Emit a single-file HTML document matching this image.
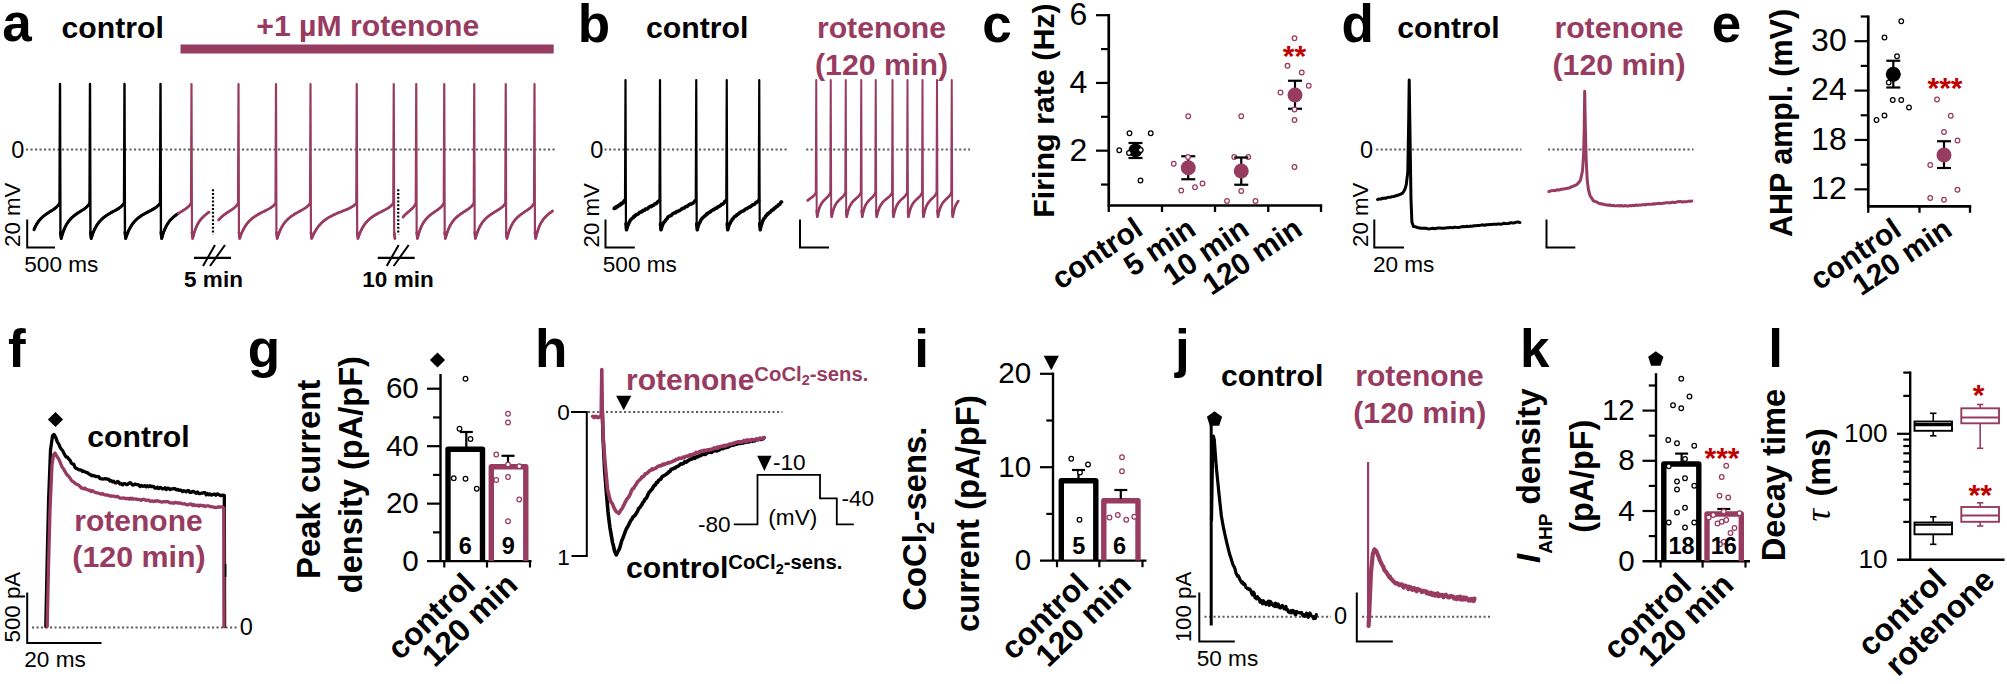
<!DOCTYPE html>
<html><head><meta charset="utf-8"><title>Figure</title>
<style>
html,body{margin:0;padding:0;background:#fff;}
svg{display:block;font-family:"Liberation Sans",sans-serif;}
</style></head><body>
<svg width="2007" height="684" viewBox="0 0 2007 684">
<rect width="2007" height="684" fill="#fff"/>
<text x="2.20" y="41.30" font-size="53" font-weight="bold" fill="#000" text-anchor="start">a</text>
<text x="61.50" y="38.00" font-size="30.2" font-weight="bold" fill="#000" text-anchor="start">control</text>
<text x="256.30" y="36.00" font-size="30.2" font-weight="bold" fill="#983b61" text-anchor="start">+1 µM rotenone</text>
<rect x="180.5" y="44.5" width="373.2" height="9" fill="#983b61"/>
<text x="11.20" y="158.00" font-size="23.5" fill="#000" text-anchor="start">0</text>
<line x1="26.00" y1="149.50" x2="557.00" y2="149.50" stroke="#5e5e5e" stroke-width="2.1" stroke-dasharray="2.1 2.4"/>
<polyline points="34.03,229.63 34.67,228.12 35.30,226.75 35.94,225.50 36.58,224.36 37.21,223.31 37.85,222.35 38.49,221.46 39.12,220.64 39.76,219.87 40.40,219.15 41.03,218.48 41.67,217.85 42.31,217.25 42.94,216.68 43.58,216.15 44.22,215.63 44.85,215.14 45.49,214.66 46.13,214.20 46.77,213.76 47.40,213.32 48.04,212.90 48.68,212.49 49.31,212.08 49.95,211.67 50.59,211.27 51.22,210.87 51.86,210.46 52.50,210.05 53.13,209.64 53.77,209.20 54.41,208.75 55.04,208.28 55.68,207.78 56.32,207.24 56.95,206.65 57.59,206.00 58.23,205.29 58.86,204.48 59.50,203.57 60.00,84.00 60.45,232.50 61.20,238.50 61.91,235.88 62.62,233.56 63.32,231.48 64.03,229.63 64.74,227.96 65.45,226.46 66.15,225.11 66.86,223.89 67.57,222.77 68.28,221.75 68.98,220.81 69.69,219.95 70.40,219.15 71.11,218.41 71.81,217.71 72.52,217.06 73.23,216.44 73.94,215.86 74.64,215.30 75.35,214.77 76.06,214.25 76.77,213.76 77.47,213.28 78.18,212.81 78.89,212.35 79.59,211.90 80.30,211.45 81.01,211.00 81.72,210.55 82.42,210.10 83.13,209.64 83.84,209.15 84.55,208.65 85.25,208.12 85.96,207.54 86.67,206.92 87.38,206.23 88.08,205.45 88.79,204.58 89.50,203.57 90.00,84.00 90.45,232.50 91.20,238.50 92.02,235.88 92.84,233.56 93.66,231.48 94.48,229.63 95.30,227.96 96.12,226.46 96.94,225.11 97.76,223.89 98.58,222.77 99.40,221.75 100.22,220.81 101.04,219.95 101.86,219.15 102.68,218.41 103.50,217.71 104.32,217.06 105.14,216.44 105.96,215.86 106.78,215.30 107.60,214.77 108.42,214.25 109.24,213.76 110.06,213.28 110.88,212.81 111.70,212.35 112.52,211.90 113.34,211.45 114.16,211.00 114.98,210.55 115.80,210.10 116.62,209.64 117.44,209.15 118.26,208.65 119.08,208.12 119.90,207.54 120.72,206.92 121.54,206.23 122.36,205.45 123.18,204.58 124.00,203.57 124.50,84.00 124.95,232.50 125.70,238.50 126.56,235.88 127.42,233.56 128.27,231.48 129.13,229.63 129.99,227.96 130.84,226.46 131.70,225.11 132.56,223.89 133.42,222.77 134.28,221.75 135.13,220.81 135.99,219.95 136.85,219.15 137.71,218.41 138.56,217.71 139.42,217.06 140.28,216.44 141.13,215.86 141.99,215.30 142.85,214.77 143.71,214.25 144.56,213.76 145.42,213.28 146.28,212.81 147.14,212.35 148.00,211.90 148.85,211.45 149.71,211.00 150.57,210.55 151.43,210.10 152.28,209.64 153.14,209.15 154.00,208.65 154.85,208.12 155.71,207.54 156.57,206.92 157.43,206.23 158.28,205.45 159.14,204.58 160.00,203.57 160.50,84.00 160.95,232.50 161.70,238.50 162.11,236.99 162.53,235.57 162.94,234.24 163.35,233.00 163.77,231.83 164.18,230.74 164.59,229.71 165.01,228.75 165.42,227.84 165.84,226.98 166.25,226.17 166.66,225.41 167.08,224.68 167.49,224.00 167.90,223.35 168.32,222.74 168.73,222.15 169.14,221.59 169.56,221.06 169.97,220.56 170.38,220.07 170.80,219.61 171.21,219.16 171.62,218.74 172.04,218.33 172.45,217.93 172.86,217.55 173.28,217.18 173.69,216.83 174.11,216.48 174.52,216.15 174.93,215.82 175.35,215.50 175.76,215.19 176.17,214.89 176.59,214.60 177.00,214.31 177.41,214.03 177.83,213.75 178.24,213.48" fill="none" stroke="#000" stroke-width="2.4" stroke-linejoin="round" stroke-linecap="round"/>
<polyline points="34.03,229.63 34.67,228.12 35.30,226.75 35.94,225.50 36.58,224.36 37.21,223.31 37.85,222.35 38.49,221.46 39.12,220.64 39.76,219.87 40.40,219.15 41.03,218.48 41.67,217.85 42.31,217.25 42.94,216.68 43.58,216.15 44.22,215.63 44.85,215.14 45.49,214.66 46.13,214.20 46.77,213.76 47.40,213.32 48.04,212.90 48.68,212.49 49.31,212.08 49.95,211.67 50.59,211.27 51.22,210.87 51.86,210.46 52.50,210.05 53.13,209.64 53.77,209.20 54.41,208.75 55.04,208.28 55.68,207.78 56.32,207.24 56.95,206.65 57.59,206.00 58.23,205.29 58.86,204.48 59.50,203.57" fill="none" stroke="#000" stroke-width="3.0" stroke-linejoin="round" stroke-linecap="round"/>
<polyline points="60.45,232.50 61.20,238.50 61.91,235.88 62.62,233.56 63.32,231.48 64.03,229.63 64.74,227.96 65.45,226.46 66.15,225.11 66.86,223.89 67.57,222.77 68.28,221.75 68.98,220.81 69.69,219.95 70.40,219.15 71.11,218.41 71.81,217.71 72.52,217.06 73.23,216.44 73.94,215.86 74.64,215.30 75.35,214.77 76.06,214.25 76.77,213.76 77.47,213.28 78.18,212.81 78.89,212.35 79.59,211.90 80.30,211.45 81.01,211.00 81.72,210.55 82.42,210.10 83.13,209.64 83.84,209.15 84.55,208.65 85.25,208.12 85.96,207.54 86.67,206.92 87.38,206.23 88.08,205.45 88.79,204.58 89.50,203.57" fill="none" stroke="#000" stroke-width="3.0" stroke-linejoin="round" stroke-linecap="round"/>
<polyline points="90.45,232.50 91.20,238.50 92.02,235.88 92.84,233.56 93.66,231.48 94.48,229.63 95.30,227.96 96.12,226.46 96.94,225.11 97.76,223.89 98.58,222.77 99.40,221.75 100.22,220.81 101.04,219.95 101.86,219.15 102.68,218.41 103.50,217.71 104.32,217.06 105.14,216.44 105.96,215.86 106.78,215.30 107.60,214.77 108.42,214.25 109.24,213.76 110.06,213.28 110.88,212.81 111.70,212.35 112.52,211.90 113.34,211.45 114.16,211.00 114.98,210.55 115.80,210.10 116.62,209.64 117.44,209.15 118.26,208.65 119.08,208.12 119.90,207.54 120.72,206.92 121.54,206.23 122.36,205.45 123.18,204.58 124.00,203.57" fill="none" stroke="#000" stroke-width="3.0" stroke-linejoin="round" stroke-linecap="round"/>
<polyline points="124.95,232.50 125.70,238.50 126.56,235.88 127.42,233.56 128.27,231.48 129.13,229.63 129.99,227.96 130.84,226.46 131.70,225.11 132.56,223.89 133.42,222.77 134.28,221.75 135.13,220.81 135.99,219.95 136.85,219.15 137.71,218.41 138.56,217.71 139.42,217.06 140.28,216.44 141.13,215.86 141.99,215.30 142.85,214.77 143.71,214.25 144.56,213.76 145.42,213.28 146.28,212.81 147.14,212.35 148.00,211.90 148.85,211.45 149.71,211.00 150.57,210.55 151.43,210.10 152.28,209.64 153.14,209.15 154.00,208.65 154.85,208.12 155.71,207.54 156.57,206.92 157.43,206.23 158.28,205.45 159.14,204.58 160.00,203.57" fill="none" stroke="#000" stroke-width="3.0" stroke-linejoin="round" stroke-linecap="round"/>
<polyline points="160.95,232.50 161.70,238.50 162.11,236.99 162.53,235.57 162.94,234.24 163.35,233.00 163.77,231.83 164.18,230.74 164.59,229.71 165.01,228.75 165.42,227.84 165.84,226.98 166.25,226.17 166.66,225.41 167.08,224.68 167.49,224.00 167.90,223.35 168.32,222.74 168.73,222.15 169.14,221.59 169.56,221.06 169.97,220.56 170.38,220.07 170.80,219.61 171.21,219.16 171.62,218.74 172.04,218.33 172.45,217.93 172.86,217.55 173.28,217.18 173.69,216.83 174.11,216.48 174.52,216.15 174.93,215.82 175.35,215.50 175.76,215.19 176.17,214.89 176.59,214.60 177.00,214.31 177.41,214.03 177.83,213.75 178.24,213.48" fill="none" stroke="#000" stroke-width="3.0" stroke-linejoin="round" stroke-linecap="round"/>
<polyline points="178.24,213.48 178.56,213.27 178.88,213.06 179.20,212.86 179.52,212.66 179.84,212.46 180.15,212.26 180.47,212.06 180.79,211.87 181.11,211.67 181.43,211.48 181.75,211.28 182.07,211.09 182.39,210.90 182.71,210.70 183.03,210.50 183.34,210.31 183.66,210.11 183.98,209.91 184.30,209.70 184.62,209.50 184.94,209.29 185.26,209.07 185.58,208.86 185.90,208.63 186.22,208.41 186.53,208.17 186.85,207.93 187.17,207.68 187.49,207.42 187.81,207.15 188.13,206.86 188.45,206.57 188.77,206.26 189.09,205.94 189.41,205.60 189.72,205.24 190.04,204.86 190.36,204.45 190.68,204.03 191.00,203.57 191.50,84.00 191.95,232.50 192.70,238.50 193.11,236.79 193.52,235.20 193.93,233.73 194.34,232.36 194.75,231.08 195.16,229.90 195.57,228.79 195.98,227.76 196.39,226.80 196.80,225.89 197.21,225.05 197.62,224.25 198.03,223.50 198.44,222.80 198.85,222.13 199.26,221.50 199.67,220.91 200.08,220.34 200.49,219.80 200.91,219.29 201.32,218.80 201.73,218.33 202.14,217.89 202.55,217.46 202.96,217.04 203.37,216.64 203.78,216.26 204.19,215.89 204.60,215.53 205.01,215.17 205.42,214.83 205.83,214.50 206.24,214.18 206.65,213.86 207.06,213.55 207.47,213.24 207.88,212.94 208.29,212.64 208.70,212.35 209.11,212.06" fill="none" stroke="#983b61" stroke-width="2.2" stroke-linejoin="round" stroke-linecap="round"/>
<polyline points="178.24,213.48 178.56,213.27 178.88,213.06 179.20,212.86 179.52,212.66 179.84,212.46 180.15,212.26 180.47,212.06 180.79,211.87 181.11,211.67 181.43,211.48 181.75,211.28 182.07,211.09 182.39,210.90 182.71,210.70 183.03,210.50 183.34,210.31 183.66,210.11 183.98,209.91 184.30,209.70 184.62,209.50 184.94,209.29 185.26,209.07 185.58,208.86 185.90,208.63 186.22,208.41 186.53,208.17 186.85,207.93 187.17,207.68 187.49,207.42 187.81,207.15 188.13,206.86 188.45,206.57 188.77,206.26 189.09,205.94 189.41,205.60 189.72,205.24 190.04,204.86 190.36,204.45 190.68,204.03 191.00,203.57" fill="none" stroke="#983b61" stroke-width="2.7" stroke-linejoin="round" stroke-linecap="round"/>
<polyline points="191.95,232.50 192.70,238.50 193.11,236.79 193.52,235.20 193.93,233.73 194.34,232.36 194.75,231.08 195.16,229.90 195.57,228.79 195.98,227.76 196.39,226.80 196.80,225.89 197.21,225.05 197.62,224.25 198.03,223.50 198.44,222.80 198.85,222.13 199.26,221.50 199.67,220.91 200.08,220.34 200.49,219.80 200.91,219.29 201.32,218.80 201.73,218.33 202.14,217.89 202.55,217.46 202.96,217.04 203.37,216.64 203.78,216.26 204.19,215.89 204.60,215.53 205.01,215.17 205.42,214.83 205.83,214.50 206.24,214.18 206.65,213.86 207.06,213.55 207.47,213.24 207.88,212.94 208.29,212.64 208.70,212.35 209.11,212.06" fill="none" stroke="#983b61" stroke-width="2.7" stroke-linejoin="round" stroke-linecap="round"/>
<polyline points="218.69,219.94 219.17,219.37 219.65,218.84 220.14,218.33 220.62,217.84 221.10,217.37 221.59,216.93 222.07,216.50 222.55,216.08 223.03,215.68 223.52,215.29 224.00,214.92 224.48,214.55 224.97,214.20 225.45,213.85 225.93,213.51 226.41,213.18 226.90,212.85 227.38,212.53 227.86,212.21 228.34,211.89 228.83,211.58 229.31,211.27 229.79,210.96 230.28,210.64 230.76,210.33 231.24,210.01 231.72,209.68 232.21,209.35 232.69,209.00 233.17,208.65 233.66,208.28 234.14,207.89 234.62,207.48 235.10,207.05 235.59,206.58 236.07,206.08 236.55,205.53 237.03,204.94 237.52,204.29 238.00,203.57 238.50,84.00 238.95,232.50 239.70,238.50 240.59,235.88 241.49,233.56 242.38,231.48 243.28,229.63 244.17,227.96 245.07,226.46 245.97,225.11 246.86,223.89 247.75,222.77 248.65,221.75 249.54,220.81 250.44,219.95 251.33,219.15 252.23,218.41 253.12,217.71 254.02,217.06 254.91,216.44 255.81,215.86 256.70,215.30 257.60,214.77 258.50,214.25 259.39,213.76 260.28,213.28 261.18,212.81 262.07,212.35 262.97,211.90 263.87,211.45 264.76,211.00 265.65,210.55 266.55,210.10 267.44,209.64 268.34,209.15 269.24,208.65 270.13,208.12 271.02,207.54 271.92,206.92 272.81,206.23 273.71,205.45 274.61,204.58 275.50,203.57 276.00,84.00 276.45,232.50 277.20,238.50 278.02,235.88 278.84,233.56 279.66,231.48 280.48,229.63 281.30,227.96 282.12,226.46 282.94,225.11 283.76,223.89 284.58,222.77 285.40,221.75 286.22,220.81 287.04,219.95 287.86,219.15 288.68,218.41 289.50,217.71 290.32,217.06 291.14,216.44 291.96,215.86 292.78,215.30 293.60,214.77 294.42,214.25 295.24,213.76 296.06,213.28 296.88,212.81 297.70,212.35 298.52,211.90 299.34,211.45 300.16,211.00 300.98,210.55 301.80,210.10 302.62,209.64 303.44,209.15 304.26,208.65 305.08,208.12 305.90,207.54 306.72,206.92 307.54,206.23 308.36,205.45 309.18,204.58 310.00,203.57 310.50,84.00 310.95,232.50 311.70,238.50 312.81,235.88 313.93,233.56 315.04,231.48 316.15,229.63 317.27,227.96 318.38,226.46 319.50,225.11 320.61,223.89 321.72,222.77 322.84,221.75 323.95,220.81 325.06,219.95 326.18,219.15 327.29,218.41 328.41,217.71 329.52,217.06 330.63,216.44 331.75,215.86 332.86,215.30 333.98,214.77 335.09,214.25 336.20,213.76 337.32,213.28 338.43,212.81 339.54,212.35 340.66,211.90 341.77,211.45 342.88,211.00 344.00,210.55 345.11,210.10 346.23,209.64 347.34,209.15 348.45,208.65 349.57,208.12 350.68,207.54 351.80,206.92 352.91,206.23 354.02,205.45 355.14,204.58 356.25,203.57 356.75,84.00 357.20,232.50 357.95,238.50 358.83,235.88 359.71,233.56 360.60,231.48 361.48,229.63 362.36,227.96 363.25,226.46 364.13,225.11 365.01,223.89 365.89,222.77 366.77,221.75 367.66,220.81 368.54,219.95 369.42,219.15 370.31,218.41 371.19,217.71 372.07,217.06 372.95,216.44 373.83,215.86 374.72,215.30 375.60,214.77 376.48,214.25 377.37,213.76 378.25,213.28 379.13,212.81 380.01,212.35 380.89,211.90 381.78,211.45 382.66,211.00 383.54,210.55 384.43,210.10 385.31,209.64 386.19,209.15 387.07,208.65 387.95,208.12 388.84,207.54 389.72,206.92 390.60,206.23 391.49,205.45 392.37,204.58 393.25,203.57 393.75,84.00 394.20,232.50 394.95,238.50" fill="none" stroke="#983b61" stroke-width="2.2" stroke-linejoin="round" stroke-linecap="round"/>
<polyline points="218.69,219.94 219.17,219.37 219.65,218.84 220.14,218.33 220.62,217.84 221.10,217.37 221.59,216.93 222.07,216.50 222.55,216.08 223.03,215.68 223.52,215.29 224.00,214.92 224.48,214.55 224.97,214.20 225.45,213.85 225.93,213.51 226.41,213.18 226.90,212.85 227.38,212.53 227.86,212.21 228.34,211.89 228.83,211.58 229.31,211.27 229.79,210.96 230.28,210.64 230.76,210.33 231.24,210.01 231.72,209.68 232.21,209.35 232.69,209.00 233.17,208.65 233.66,208.28 234.14,207.89 234.62,207.48 235.10,207.05 235.59,206.58 236.07,206.08 236.55,205.53 237.03,204.94 237.52,204.29 238.00,203.57" fill="none" stroke="#983b61" stroke-width="2.7" stroke-linejoin="round" stroke-linecap="round"/>
<polyline points="238.95,232.50 239.70,238.50 240.59,235.88 241.49,233.56 242.38,231.48 243.28,229.63 244.17,227.96 245.07,226.46 245.97,225.11 246.86,223.89 247.75,222.77 248.65,221.75 249.54,220.81 250.44,219.95 251.33,219.15 252.23,218.41 253.12,217.71 254.02,217.06 254.91,216.44 255.81,215.86 256.70,215.30 257.60,214.77 258.50,214.25 259.39,213.76 260.28,213.28 261.18,212.81 262.07,212.35 262.97,211.90 263.87,211.45 264.76,211.00 265.65,210.55 266.55,210.10 267.44,209.64 268.34,209.15 269.24,208.65 270.13,208.12 271.02,207.54 271.92,206.92 272.81,206.23 273.71,205.45 274.61,204.58 275.50,203.57" fill="none" stroke="#983b61" stroke-width="2.7" stroke-linejoin="round" stroke-linecap="round"/>
<polyline points="276.45,232.50 277.20,238.50 278.02,235.88 278.84,233.56 279.66,231.48 280.48,229.63 281.30,227.96 282.12,226.46 282.94,225.11 283.76,223.89 284.58,222.77 285.40,221.75 286.22,220.81 287.04,219.95 287.86,219.15 288.68,218.41 289.50,217.71 290.32,217.06 291.14,216.44 291.96,215.86 292.78,215.30 293.60,214.77 294.42,214.25 295.24,213.76 296.06,213.28 296.88,212.81 297.70,212.35 298.52,211.90 299.34,211.45 300.16,211.00 300.98,210.55 301.80,210.10 302.62,209.64 303.44,209.15 304.26,208.65 305.08,208.12 305.90,207.54 306.72,206.92 307.54,206.23 308.36,205.45 309.18,204.58 310.00,203.57" fill="none" stroke="#983b61" stroke-width="2.7" stroke-linejoin="round" stroke-linecap="round"/>
<polyline points="310.95,232.50 311.70,238.50 312.81,235.88 313.93,233.56 315.04,231.48 316.15,229.63 317.27,227.96 318.38,226.46 319.50,225.11 320.61,223.89 321.72,222.77 322.84,221.75 323.95,220.81 325.06,219.95 326.18,219.15 327.29,218.41 328.41,217.71 329.52,217.06 330.63,216.44 331.75,215.86 332.86,215.30 333.98,214.77 335.09,214.25 336.20,213.76 337.32,213.28 338.43,212.81 339.54,212.35 340.66,211.90 341.77,211.45 342.88,211.00 344.00,210.55 345.11,210.10 346.23,209.64 347.34,209.15 348.45,208.65 349.57,208.12 350.68,207.54 351.80,206.92 352.91,206.23 354.02,205.45 355.14,204.58 356.25,203.57" fill="none" stroke="#983b61" stroke-width="2.7" stroke-linejoin="round" stroke-linecap="round"/>
<polyline points="357.20,232.50 357.95,238.50 358.83,235.88 359.71,233.56 360.60,231.48 361.48,229.63 362.36,227.96 363.25,226.46 364.13,225.11 365.01,223.89 365.89,222.77 366.77,221.75 367.66,220.81 368.54,219.95 369.42,219.15 370.31,218.41 371.19,217.71 372.07,217.06 372.95,216.44 373.83,215.86 374.72,215.30 375.60,214.77 376.48,214.25 377.37,213.76 378.25,213.28 379.13,212.81 380.01,212.35 380.89,211.90 381.78,211.45 382.66,211.00 383.54,210.55 384.43,210.10 385.31,209.64 386.19,209.15 387.07,208.65 387.95,208.12 388.84,207.54 389.72,206.92 390.60,206.23 391.49,205.45 392.37,204.58 393.25,203.57" fill="none" stroke="#983b61" stroke-width="2.7" stroke-linejoin="round" stroke-linecap="round"/>
<polyline points="394.20,232.50 394.95,238.50" fill="none" stroke="#983b61" stroke-width="2.7" stroke-linejoin="round" stroke-linecap="round"/>
<polyline points="403.02,217.04 403.34,216.66 403.66,216.30 403.97,215.95 404.29,215.61 404.61,215.28 404.93,214.96 405.25,214.65 405.56,214.34 405.88,214.04 406.20,213.74 406.52,213.46 406.84,213.17 407.16,212.89 407.47,212.61 407.79,212.34 408.11,212.07 408.43,211.80 408.75,211.53 409.07,211.26 409.38,211.00 409.70,210.73 410.02,210.46 410.34,210.19 410.66,209.91 410.98,209.63 411.29,209.34 411.61,209.05 411.93,208.75 412.25,208.44 412.57,208.11 412.89,207.77 413.20,207.42 413.52,207.04 413.84,206.65 414.16,206.22 414.48,205.77 414.80,205.28 415.11,204.76 415.43,204.19 415.75,203.57 416.25,84.00 416.70,232.50 417.45,238.50 418.11,235.88 418.76,233.56 419.42,231.48 420.08,229.63 420.74,227.96 421.39,226.46 422.05,225.11 422.71,223.89 423.37,222.77 424.02,221.75 424.68,220.81 425.34,219.95 426.00,219.15 426.65,218.41 427.31,217.71 427.97,217.06 428.63,216.44 429.28,215.86 429.94,215.30 430.60,214.77 431.26,214.25 431.92,213.76 432.57,213.28 433.23,212.81 433.89,212.35 434.55,211.90 435.20,211.45 435.86,211.00 436.52,210.55 437.18,210.10 437.83,209.64 438.49,209.15 439.15,208.65 439.81,208.12 440.46,207.54 441.12,206.92 441.78,206.23 442.44,205.45 443.09,204.58 443.75,203.57 444.25,84.00 444.70,232.50 445.45,238.50 446.16,235.88 446.87,233.56 447.57,231.48 448.28,229.63 448.99,227.96 449.69,226.46 450.40,225.11 451.11,223.89 451.82,222.77 452.52,221.75 453.23,220.81 453.94,219.95 454.65,219.15 455.36,218.41 456.06,217.71 456.77,217.06 457.48,216.44 458.19,215.86 458.89,215.30 459.60,214.77 460.31,214.25 461.01,213.76 461.72,213.28 462.43,212.81 463.14,212.35 463.84,211.90 464.55,211.45 465.26,211.00 465.97,210.55 466.68,210.10 467.38,209.64 468.09,209.15 468.80,208.65 469.50,208.12 470.21,207.54 470.92,206.92 471.63,206.23 472.33,205.45 473.04,204.58 473.75,203.57 474.25,84.00 474.70,232.50 475.45,238.50 476.19,235.88 476.94,233.56 477.69,231.48 478.43,229.63 479.18,227.96 479.92,226.46 480.66,225.11 481.41,223.89 482.15,222.77 482.90,221.75 483.64,220.81 484.39,219.95 485.13,219.15 485.88,218.41 486.62,217.71 487.37,217.06 488.12,216.44 488.86,215.86 489.61,215.30 490.35,214.77 491.09,214.25 491.84,213.76 492.58,213.28 493.33,212.81 494.07,212.35 494.82,211.90 495.56,211.45 496.31,211.00 497.06,210.55 497.80,210.10 498.55,209.64 499.29,209.15 500.03,208.65 500.78,208.12 501.52,207.54 502.27,206.92 503.01,206.23 503.76,205.45 504.50,204.58 505.25,203.57 505.75,84.00 506.20,232.50 506.95,238.50 507.63,235.88 508.30,233.56 508.98,231.48 509.65,229.63 510.33,227.96 511.01,226.46 511.68,225.11 512.36,223.89 513.04,222.77 513.71,221.75 514.39,220.81 515.06,219.95 515.74,219.15 516.42,218.41 517.09,217.71 517.77,217.06 518.45,216.44 519.12,215.86 519.80,215.30 520.48,214.77 521.15,214.25 521.83,213.76 522.50,213.28 523.18,212.81 523.86,212.35 524.53,211.90 525.21,211.45 525.88,211.00 526.56,210.55 527.24,210.10 527.91,209.64 528.59,209.15 529.27,208.65 529.94,208.12 530.62,207.54 531.29,206.92 531.97,206.23 532.65,205.45 533.32,204.58 534.00,203.57 534.50,84.00 534.95,232.50 535.70,238.50 536.12,236.64 536.54,234.92 536.96,233.34 537.38,231.88 537.80,230.53 538.22,229.28 538.64,228.12 539.06,227.04 539.48,226.04 539.90,225.11 540.32,224.24 540.74,223.42 541.16,222.66 541.58,221.94 542.00,221.27 542.42,220.63 542.84,220.03 543.26,219.46 543.68,218.92 544.10,218.40 544.52,217.91 544.95,217.44 545.37,216.99 545.79,216.56 546.21,216.14 546.63,215.74 547.05,215.35 547.47,214.97 547.89,214.60 548.31,214.25 548.73,213.90 549.15,213.56 549.57,213.22 549.99,212.90 550.41,212.57 550.83,212.25 551.25,211.94 551.67,211.62 552.09,211.31 552.51,211.00" fill="none" stroke="#983b61" stroke-width="2.2" stroke-linejoin="round" stroke-linecap="round"/>
<polyline points="403.02,217.04 403.34,216.66 403.66,216.30 403.97,215.95 404.29,215.61 404.61,215.28 404.93,214.96 405.25,214.65 405.56,214.34 405.88,214.04 406.20,213.74 406.52,213.46 406.84,213.17 407.16,212.89 407.47,212.61 407.79,212.34 408.11,212.07 408.43,211.80 408.75,211.53 409.07,211.26 409.38,211.00 409.70,210.73 410.02,210.46 410.34,210.19 410.66,209.91 410.98,209.63 411.29,209.34 411.61,209.05 411.93,208.75 412.25,208.44 412.57,208.11 412.89,207.77 413.20,207.42 413.52,207.04 413.84,206.65 414.16,206.22 414.48,205.77 414.80,205.28 415.11,204.76 415.43,204.19 415.75,203.57" fill="none" stroke="#983b61" stroke-width="2.7" stroke-linejoin="round" stroke-linecap="round"/>
<polyline points="416.70,232.50 417.45,238.50 418.11,235.88 418.76,233.56 419.42,231.48 420.08,229.63 420.74,227.96 421.39,226.46 422.05,225.11 422.71,223.89 423.37,222.77 424.02,221.75 424.68,220.81 425.34,219.95 426.00,219.15 426.65,218.41 427.31,217.71 427.97,217.06 428.63,216.44 429.28,215.86 429.94,215.30 430.60,214.77 431.26,214.25 431.92,213.76 432.57,213.28 433.23,212.81 433.89,212.35 434.55,211.90 435.20,211.45 435.86,211.00 436.52,210.55 437.18,210.10 437.83,209.64 438.49,209.15 439.15,208.65 439.81,208.12 440.46,207.54 441.12,206.92 441.78,206.23 442.44,205.45 443.09,204.58 443.75,203.57" fill="none" stroke="#983b61" stroke-width="2.7" stroke-linejoin="round" stroke-linecap="round"/>
<polyline points="444.70,232.50 445.45,238.50 446.16,235.88 446.87,233.56 447.57,231.48 448.28,229.63 448.99,227.96 449.69,226.46 450.40,225.11 451.11,223.89 451.82,222.77 452.52,221.75 453.23,220.81 453.94,219.95 454.65,219.15 455.36,218.41 456.06,217.71 456.77,217.06 457.48,216.44 458.19,215.86 458.89,215.30 459.60,214.77 460.31,214.25 461.01,213.76 461.72,213.28 462.43,212.81 463.14,212.35 463.84,211.90 464.55,211.45 465.26,211.00 465.97,210.55 466.68,210.10 467.38,209.64 468.09,209.15 468.80,208.65 469.50,208.12 470.21,207.54 470.92,206.92 471.63,206.23 472.33,205.45 473.04,204.58 473.75,203.57" fill="none" stroke="#983b61" stroke-width="2.7" stroke-linejoin="round" stroke-linecap="round"/>
<polyline points="474.70,232.50 475.45,238.50 476.19,235.88 476.94,233.56 477.69,231.48 478.43,229.63 479.18,227.96 479.92,226.46 480.66,225.11 481.41,223.89 482.15,222.77 482.90,221.75 483.64,220.81 484.39,219.95 485.13,219.15 485.88,218.41 486.62,217.71 487.37,217.06 488.12,216.44 488.86,215.86 489.61,215.30 490.35,214.77 491.09,214.25 491.84,213.76 492.58,213.28 493.33,212.81 494.07,212.35 494.82,211.90 495.56,211.45 496.31,211.00 497.06,210.55 497.80,210.10 498.55,209.64 499.29,209.15 500.03,208.65 500.78,208.12 501.52,207.54 502.27,206.92 503.01,206.23 503.76,205.45 504.50,204.58 505.25,203.57" fill="none" stroke="#983b61" stroke-width="2.7" stroke-linejoin="round" stroke-linecap="round"/>
<polyline points="506.20,232.50 506.95,238.50 507.63,235.88 508.30,233.56 508.98,231.48 509.65,229.63 510.33,227.96 511.01,226.46 511.68,225.11 512.36,223.89 513.04,222.77 513.71,221.75 514.39,220.81 515.06,219.95 515.74,219.15 516.42,218.41 517.09,217.71 517.77,217.06 518.45,216.44 519.12,215.86 519.80,215.30 520.48,214.77 521.15,214.25 521.83,213.76 522.50,213.28 523.18,212.81 523.86,212.35 524.53,211.90 525.21,211.45 525.88,211.00 526.56,210.55 527.24,210.10 527.91,209.64 528.59,209.15 529.27,208.65 529.94,208.12 530.62,207.54 531.29,206.92 531.97,206.23 532.65,205.45 533.32,204.58 534.00,203.57" fill="none" stroke="#983b61" stroke-width="2.7" stroke-linejoin="round" stroke-linecap="round"/>
<polyline points="534.95,232.50 535.70,238.50 536.12,236.64 536.54,234.92 536.96,233.34 537.38,231.88 537.80,230.53 538.22,229.28 538.64,228.12 539.06,227.04 539.48,226.04 539.90,225.11 540.32,224.24 540.74,223.42 541.16,222.66 541.58,221.94 542.00,221.27 542.42,220.63 542.84,220.03 543.26,219.46 543.68,218.92 544.10,218.40 544.52,217.91 544.95,217.44 545.37,216.99 545.79,216.56 546.21,216.14 546.63,215.74 547.05,215.35 547.47,214.97 547.89,214.60 548.31,214.25 548.73,213.90 549.15,213.56 549.57,213.22 549.99,212.90 550.41,212.57 550.83,212.25 551.25,211.94 551.67,211.62 552.09,211.31 552.51,211.00" fill="none" stroke="#983b61" stroke-width="2.7" stroke-linejoin="round" stroke-linecap="round"/>
<line x1="213.00" y1="189.30" x2="213.00" y2="234.60" stroke="#000" stroke-width="2.2" stroke-dasharray="2 1.75"/>
<line x1="398.25" y1="189.30" x2="398.25" y2="234.60" stroke="#000" stroke-width="2.2" stroke-dasharray="2 1.75"/>
<text x="0" y="0" transform="translate(20.00,247.00) rotate(-90)" font-size="22.3" fill="#000" text-anchor="start">20 mV</text>
<polyline points="27.20,219.40 27.20,247.40 55.00,247.40" fill="none" stroke="#000" stroke-width="2" stroke-linejoin="miter" stroke-linecap="butt"/>
<text x="24.30" y="271.60" font-size="22.6" fill="#000" text-anchor="start">500 ms</text>
<line x1="194.00" y1="257.80" x2="231.00" y2="257.80" stroke="#000" stroke-width="2.2"/>
<line x1="203.00" y1="266.00" x2="215.00" y2="245.00" stroke="#000" stroke-width="2"/>
<line x1="210.00" y1="266.00" x2="225.00" y2="245.00" stroke="#000" stroke-width="2"/>
<text x="213.50" y="286.50" font-size="22.5" font-weight="bold" fill="#000" text-anchor="middle">5 min</text>
<line x1="377.70" y1="257.80" x2="414.70" y2="257.80" stroke="#000" stroke-width="2.2"/>
<line x1="386.70" y1="266.00" x2="398.70" y2="245.00" stroke="#000" stroke-width="2"/>
<line x1="393.70" y1="266.00" x2="408.70" y2="245.00" stroke="#000" stroke-width="2"/>
<text x="398.00" y="286.50" font-size="22.5" font-weight="bold" fill="#000" text-anchor="middle">10 min</text>
<text x="577.70" y="41.50" font-size="53" font-weight="bold" fill="#000" text-anchor="start">b</text>
<text x="646.00" y="38.00" font-size="30.2" font-weight="bold" fill="#000" text-anchor="start">control</text>
<text x="881.50" y="38.00" font-size="30.2" font-weight="bold" fill="#983b61" text-anchor="middle">rotenone</text>
<text x="881.50" y="75.20" font-size="30.3" font-weight="bold" fill="#983b61" text-anchor="middle">(120 min)</text>
<text x="590.20" y="158.00" font-size="23.5" fill="#000" text-anchor="start">0</text>
<line x1="604.50" y1="149.50" x2="788.00" y2="149.50" stroke="#5e5e5e" stroke-width="2.1" stroke-dasharray="2.1 2.4"/>
<line x1="806.20" y1="149.50" x2="970.00" y2="149.50" stroke="#5e5e5e" stroke-width="2.1" stroke-dasharray="2.1 2.4"/>
<polyline points="614.06,208.51 614.33,208.53 614.61,207.88 614.88,208.31 615.15,208.08 615.43,207.68 615.70,207.21 615.97,207.81 616.25,206.98 616.52,207.32 616.79,206.55 617.07,206.37 617.34,206.74 617.61,206.10 617.89,206.58 618.16,205.95 618.43,205.47 618.71,205.32 618.98,205.34 619.26,205.40 619.53,205.50 619.80,204.51 620.08,204.57 620.35,204.20 620.62,204.77 620.90,203.74 621.17,203.45 621.44,203.25 621.72,203.37 621.99,203.67 622.26,203.43 622.54,203.06 622.81,203.10 623.09,202.80 623.36,201.95 623.63,201.56 623.91,202.05 624.18,201.60 624.45,200.61 624.73,200.96 625.00,200.50 625.50,80.00 625.95,223.80 626.50,229.80 627.33,226.97 628.15,224.76 628.98,222.90 629.80,221.23 630.62,219.79 631.45,218.98 632.27,218.10 633.10,217.87 633.92,216.29 634.75,216.46 635.58,215.07 636.40,214.64 637.23,214.55 638.05,214.02 638.88,213.13 639.70,212.25 640.52,212.19 641.35,211.62 642.17,211.70 643.00,210.52 643.83,210.23 644.65,210.31 645.48,208.99 646.30,208.92 647.12,208.88 647.95,208.38 648.77,207.20 649.60,206.74 650.42,206.31 651.25,206.70 652.08,205.57 652.90,205.57 653.73,205.23 654.55,204.15 655.38,203.55 656.20,203.67 657.02,202.73 657.85,201.73 658.67,201.48 659.50,200.50 660.00,80.00 660.45,223.80 661.00,229.80 661.87,226.91 662.74,224.66 663.61,222.57 664.48,221.82 665.34,220.70 666.21,219.33 667.08,218.69 667.95,216.94 668.82,216.40 669.69,215.97 670.56,215.82 671.42,215.24 672.29,214.12 673.16,213.45 674.03,213.12 674.90,212.69 675.77,212.65 676.64,211.43 677.51,211.58 678.38,211.06 679.24,210.69 680.11,210.19 680.98,209.57 681.85,208.84 682.72,208.38 683.59,207.98 684.46,207.94 685.33,206.79 686.19,206.45 687.06,206.54 687.93,205.56 688.80,204.89 689.67,204.36 690.54,204.37 691.41,203.60 692.27,203.69 693.14,203.00 694.01,202.46 694.88,201.03 695.75,200.50 696.25,80.00 696.70,223.80 697.25,229.80 697.98,226.68 698.70,224.48 699.42,223.07 700.15,221.77 700.88,220.23 701.60,218.93 702.33,218.17 703.05,217.54 703.77,216.84 704.50,216.24 705.23,215.71 705.95,214.95 706.67,213.85 707.40,214.04 708.12,212.99 708.85,212.77 709.58,212.09 710.30,211.99 711.02,210.98 711.75,210.57 712.48,210.11 713.20,209.57 713.92,209.85 714.65,209.09 715.38,208.39 716.10,208.01 716.83,208.15 717.55,207.21 718.27,206.48 719.00,206.59 719.73,205.96 720.45,205.82 721.17,204.43 721.90,204.29 722.62,204.10 723.35,203.55 724.08,203.03 724.80,201.51 725.52,201.06 726.25,200.50 726.75,80.00 727.20,223.80 727.75,229.80 728.52,226.71 729.30,224.58 730.08,223.54 730.85,221.64 731.62,220.72 732.40,219.07 733.17,218.62 733.95,217.37 734.73,216.43 735.50,216.27 736.27,215.81 737.05,214.39 737.83,214.33 738.60,213.82 739.38,212.91 740.15,212.57 740.92,211.86 741.70,211.45 742.48,211.04 743.25,210.92 744.02,210.52 744.80,209.62 745.58,208.97 746.35,208.84 747.12,208.74 747.90,207.80 748.67,207.47 749.45,206.91 750.23,207.04 751.00,206.33 751.77,205.37 752.55,204.93 753.33,204.73 754.10,204.37 754.88,203.92 755.65,202.80 756.42,202.28 757.20,202.16 757.98,201.18 758.75,200.50 759.25,80.00 759.70,223.80 760.25,229.80 760.78,227.00 761.32,224.90 761.85,223.78 762.38,221.65 762.92,220.65 763.45,219.36 763.98,218.48 764.52,218.10 765.05,217.49 765.58,216.19 766.11,215.40 766.65,215.36 767.18,214.29 767.71,213.58 768.25,213.98 768.78,213.02 769.31,212.95 769.85,212.08 770.38,212.11 770.91,211.24 771.45,210.51 771.98,209.93 772.51,210.03 773.05,209.70 773.58,209.54 774.11,208.29 774.64,208.39 775.18,207.71 775.71,207.42 776.24,206.63 776.78,206.32 777.31,206.12 777.84,206.07 778.38,204.79 778.91,204.70 779.44,204.52 779.98,204.16 780.51,202.85 781.04,202.21 781.58,201.97" fill="none" stroke="#000" stroke-width="2.2" stroke-linejoin="round" stroke-linecap="round"/>
<polyline points="614.06,208.51 614.33,208.53 614.61,207.88 614.88,208.31 615.15,208.08 615.43,207.68 615.70,207.21 615.97,207.81 616.25,206.98 616.52,207.32 616.79,206.55 617.07,206.37 617.34,206.74 617.61,206.10 617.89,206.58 618.16,205.95 618.43,205.47 618.71,205.32 618.98,205.34 619.26,205.40 619.53,205.50 619.80,204.51 620.08,204.57 620.35,204.20 620.62,204.77 620.90,203.74 621.17,203.45 621.44,203.25 621.72,203.37 621.99,203.67 622.26,203.43 622.54,203.06 622.81,203.10 623.09,202.80 623.36,201.95 623.63,201.56 623.91,202.05 624.18,201.60 624.45,200.61 624.73,200.96 625.00,200.50" fill="none" stroke="#000" stroke-width="3.5" stroke-linejoin="round" stroke-linecap="round"/>
<polyline points="625.95,223.80 626.50,229.80 627.33,226.97 628.15,224.76 628.98,222.90 629.80,221.23 630.62,219.79 631.45,218.98 632.27,218.10 633.10,217.87 633.92,216.29 634.75,216.46 635.58,215.07 636.40,214.64 637.23,214.55 638.05,214.02 638.88,213.13 639.70,212.25 640.52,212.19 641.35,211.62 642.17,211.70 643.00,210.52 643.83,210.23 644.65,210.31 645.48,208.99 646.30,208.92 647.12,208.88 647.95,208.38 648.77,207.20 649.60,206.74 650.42,206.31 651.25,206.70 652.08,205.57 652.90,205.57 653.73,205.23 654.55,204.15 655.38,203.55 656.20,203.67 657.02,202.73 657.85,201.73 658.67,201.48 659.50,200.50" fill="none" stroke="#000" stroke-width="3.5" stroke-linejoin="round" stroke-linecap="round"/>
<polyline points="660.45,223.80 661.00,229.80 661.87,226.91 662.74,224.66 663.61,222.57 664.48,221.82 665.34,220.70 666.21,219.33 667.08,218.69 667.95,216.94 668.82,216.40 669.69,215.97 670.56,215.82 671.42,215.24 672.29,214.12 673.16,213.45 674.03,213.12 674.90,212.69 675.77,212.65 676.64,211.43 677.51,211.58 678.38,211.06 679.24,210.69 680.11,210.19 680.98,209.57 681.85,208.84 682.72,208.38 683.59,207.98 684.46,207.94 685.33,206.79 686.19,206.45 687.06,206.54 687.93,205.56 688.80,204.89 689.67,204.36 690.54,204.37 691.41,203.60 692.27,203.69 693.14,203.00 694.01,202.46 694.88,201.03 695.75,200.50" fill="none" stroke="#000" stroke-width="3.5" stroke-linejoin="round" stroke-linecap="round"/>
<polyline points="696.70,223.80 697.25,229.80 697.98,226.68 698.70,224.48 699.42,223.07 700.15,221.77 700.88,220.23 701.60,218.93 702.33,218.17 703.05,217.54 703.77,216.84 704.50,216.24 705.23,215.71 705.95,214.95 706.67,213.85 707.40,214.04 708.12,212.99 708.85,212.77 709.58,212.09 710.30,211.99 711.02,210.98 711.75,210.57 712.48,210.11 713.20,209.57 713.92,209.85 714.65,209.09 715.38,208.39 716.10,208.01 716.83,208.15 717.55,207.21 718.27,206.48 719.00,206.59 719.73,205.96 720.45,205.82 721.17,204.43 721.90,204.29 722.62,204.10 723.35,203.55 724.08,203.03 724.80,201.51 725.52,201.06 726.25,200.50" fill="none" stroke="#000" stroke-width="3.5" stroke-linejoin="round" stroke-linecap="round"/>
<polyline points="727.20,223.80 727.75,229.80 728.52,226.71 729.30,224.58 730.08,223.54 730.85,221.64 731.62,220.72 732.40,219.07 733.17,218.62 733.95,217.37 734.73,216.43 735.50,216.27 736.27,215.81 737.05,214.39 737.83,214.33 738.60,213.82 739.38,212.91 740.15,212.57 740.92,211.86 741.70,211.45 742.48,211.04 743.25,210.92 744.02,210.52 744.80,209.62 745.58,208.97 746.35,208.84 747.12,208.74 747.90,207.80 748.67,207.47 749.45,206.91 750.23,207.04 751.00,206.33 751.77,205.37 752.55,204.93 753.33,204.73 754.10,204.37 754.88,203.92 755.65,202.80 756.42,202.28 757.20,202.16 757.98,201.18 758.75,200.50" fill="none" stroke="#000" stroke-width="3.5" stroke-linejoin="round" stroke-linecap="round"/>
<polyline points="759.70,223.80 760.25,229.80 760.78,227.00 761.32,224.90 761.85,223.78 762.38,221.65 762.92,220.65 763.45,219.36 763.98,218.48 764.52,218.10 765.05,217.49 765.58,216.19 766.11,215.40 766.65,215.36 767.18,214.29 767.71,213.58 768.25,213.98 768.78,213.02 769.31,212.95 769.85,212.08 770.38,212.11 770.91,211.24 771.45,210.51 771.98,209.93 772.51,210.03 773.05,209.70 773.58,209.54 774.11,208.29 774.64,208.39 775.18,207.71 775.71,207.42 776.24,206.63 776.78,206.32 777.31,206.12 777.84,206.07 778.38,204.79 778.91,204.70 779.44,204.52 779.98,204.16 780.51,202.85 781.04,202.21 781.58,201.97" fill="none" stroke="#000" stroke-width="3.5" stroke-linejoin="round" stroke-linecap="round"/>
<polyline points="807.72,200.37 807.92,200.21 808.12,200.05 808.32,199.89 808.52,199.73 808.72,199.58 808.92,199.43 809.12,199.27 809.33,199.12 809.53,198.98 809.73,198.83 809.93,198.68 810.13,198.53 810.33,198.39 810.53,198.24 810.73,198.10 810.93,197.95 811.13,197.81 811.33,197.66 811.53,197.51 811.73,197.36 811.94,197.21 812.14,197.05 812.34,196.90 812.54,196.73 812.74,196.57 812.94,196.40 813.14,196.23 813.34,196.05 813.54,195.86 813.74,195.67 813.94,195.46 814.14,195.25 814.34,195.03 814.55,194.79 814.75,194.54 814.95,194.28 815.15,194.00 815.35,193.71 815.55,193.39 815.75,193.05 816.25,80.00 816.70,210.80 817.25,216.80 817.58,215.02 817.90,213.44 818.23,212.03 818.55,210.77 818.88,209.63 819.20,208.62 819.52,207.70 819.85,206.86 820.17,206.10 820.50,205.41 820.83,204.77 821.15,204.19 821.48,203.64 821.80,203.14 822.12,202.66 822.45,202.22 822.77,201.80 823.10,201.40 823.42,201.02 823.75,200.66 824.08,200.31 824.40,199.98 824.73,199.65 825.05,199.33 825.38,199.02 825.70,198.71 826.02,198.41 826.35,198.10 826.67,197.80 827.00,197.49 827.33,197.17 827.65,196.84 827.98,196.50 828.30,196.14 828.62,195.75 828.95,195.32 829.27,194.85 829.60,194.33 829.92,193.73 830.25,193.05 830.75,80.00 831.20,210.80 831.75,216.80 832.09,215.02 832.42,213.44 832.76,212.03 833.10,210.77 833.44,209.63 833.77,208.62 834.11,207.70 834.45,206.86 834.79,206.10 835.12,205.41 835.46,204.77 835.80,204.19 836.14,203.64 836.48,203.14 836.81,202.66 837.15,202.22 837.49,201.80 837.83,201.40 838.16,201.02 838.50,200.66 838.84,200.31 839.17,199.98 839.51,199.65 839.85,199.33 840.19,199.02 840.52,198.71 840.86,198.41 841.20,198.10 841.54,197.80 841.88,197.49 842.21,197.17 842.55,196.84 842.89,196.50 843.23,196.14 843.56,195.75 843.90,195.32 844.24,194.85 844.58,194.33 844.91,193.73 845.25,193.05 845.75,80.00 846.20,210.80 846.75,216.80 847.10,215.02 847.45,213.44 847.80,212.03 848.15,210.77 848.50,209.63 848.85,208.62 849.20,207.70 849.55,206.86 849.90,206.10 850.25,205.41 850.60,204.77 850.95,204.19 851.30,203.64 851.65,203.14 852.00,202.66 852.35,202.22 852.70,201.80 853.05,201.40 853.40,201.02 853.75,200.66 854.10,200.31 854.45,199.98 854.80,199.65 855.15,199.33 855.50,199.02 855.85,198.71 856.20,198.41 856.55,198.10 856.90,197.80 857.25,197.49 857.60,197.17 857.95,196.84 858.30,196.50 858.65,196.14 859.00,195.75 859.35,195.32 859.70,194.85 860.05,194.33 860.40,193.73 860.75,193.05 861.25,80.00 861.70,210.80 862.25,216.80 862.58,215.02 862.90,213.44 863.23,212.03 863.55,210.77 863.88,209.63 864.20,208.62 864.52,207.70 864.85,206.86 865.17,206.10 865.50,205.41 865.83,204.77 866.15,204.19 866.48,203.64 866.80,203.14 867.12,202.66 867.45,202.22 867.77,201.80 868.10,201.40 868.42,201.02 868.75,200.66 869.08,200.31 869.40,199.98 869.73,199.65 870.05,199.33 870.38,199.02 870.70,198.71 871.02,198.41 871.35,198.10 871.67,197.80 872.00,197.49 872.33,197.17 872.65,196.84 872.98,196.50 873.30,196.14 873.62,195.75 873.95,195.32 874.27,194.85 874.60,194.33 874.92,193.73 875.25,193.05 875.75,80.00 876.20,210.80 876.75,216.80 877.13,215.02 877.51,213.44 877.89,212.03 878.27,210.77 878.66,209.63 879.04,208.62 879.42,207.70 879.80,206.86 880.18,206.10 880.56,205.41 880.94,204.77 881.33,204.19 881.71,203.64 882.09,203.14 882.47,202.66 882.85,202.22 883.23,201.80 883.61,201.40 883.99,201.02 884.38,200.66 884.76,200.31 885.14,199.98 885.52,199.65 885.90,199.33 886.28,199.02 886.66,198.71 887.04,198.41 887.42,198.10 887.81,197.80 888.19,197.49 888.57,197.17 888.95,196.84 889.33,196.50 889.71,196.14 890.09,195.75 890.48,195.32 890.86,194.85 891.24,194.33 891.62,193.73 892.00,193.05 892.50,80.00 892.95,210.80 893.50,216.80 893.84,215.02 894.17,213.44 894.51,212.03 894.85,210.77 895.19,209.63 895.52,208.62 895.86,207.70 896.20,206.86 896.54,206.10 896.88,205.41 897.21,204.77 897.55,204.19 897.89,203.64 898.23,203.14 898.56,202.66 898.90,202.22 899.24,201.80 899.58,201.40 899.91,201.02 900.25,200.66 900.59,200.31 900.92,199.98 901.26,199.65 901.60,199.33 901.94,199.02 902.27,198.71 902.61,198.41 902.95,198.10 903.29,197.80 903.62,197.49 903.96,197.17 904.30,196.84 904.64,196.50 904.98,196.14 905.31,195.75 905.65,195.32 905.99,194.85 906.33,194.33 906.66,193.73 907.00,193.05 907.50,80.00 907.95,210.80 908.50,216.80 908.84,215.02 909.17,213.44 909.51,212.03 909.85,210.77 910.19,209.63 910.52,208.62 910.86,207.70 911.20,206.86 911.54,206.10 911.88,205.41 912.21,204.77 912.55,204.19 912.89,203.64 913.23,203.14 913.56,202.66 913.90,202.22 914.24,201.80 914.58,201.40 914.91,201.02 915.25,200.66 915.59,200.31 915.92,199.98 916.26,199.65 916.60,199.33 916.94,199.02 917.27,198.71 917.61,198.41 917.95,198.10 918.29,197.80 918.62,197.49 918.96,197.17 919.30,196.84 919.64,196.50 919.98,196.14 920.31,195.75 920.65,195.32 920.99,194.85 921.33,194.33 921.66,193.73 922.00,193.05 922.50,80.00 922.95,210.80 923.50,216.80 923.83,215.02 924.15,213.44 924.48,212.03 924.80,210.77 925.12,209.63 925.45,208.62 925.77,207.70 926.10,206.86 926.42,206.10 926.75,205.41 927.08,204.77 927.40,204.19 927.73,203.64 928.05,203.14 928.38,202.66 928.70,202.22 929.02,201.80 929.35,201.40 929.67,201.02 930.00,200.66 930.33,200.31 930.65,199.98 930.98,199.65 931.30,199.33 931.62,199.02 931.95,198.71 932.27,198.41 932.60,198.10 932.92,197.80 933.25,197.49 933.58,197.17 933.90,196.84 934.23,196.50 934.55,196.14 934.88,195.75 935.20,195.32 935.52,194.85 935.85,194.33 936.17,193.73 936.50,193.05 937.00,80.00 937.45,210.80 938.00,216.80 938.33,215.02 938.66,213.44 938.99,212.03 939.33,210.77 939.66,209.63 939.99,208.62 940.32,207.70 940.65,206.86 940.98,206.10 941.31,205.41 941.64,204.77 941.98,204.19 942.31,203.64 942.64,203.14 942.97,202.66 943.30,202.22 943.63,201.80 943.96,201.40 944.29,201.02 944.62,200.66 944.96,200.31 945.29,199.98 945.62,199.65 945.95,199.33 946.28,199.02 946.61,198.71 946.94,198.41 947.27,198.10 947.61,197.80 947.94,197.49 948.27,197.17 948.60,196.84 948.93,196.50 949.26,196.14 949.59,195.75 949.92,195.32 950.26,194.85 950.59,194.33 950.92,193.73 951.25,193.05 951.75,80.00 952.20,210.80 952.75,216.80 952.89,215.93 953.03,215.12 953.17,214.34 953.30,213.61 953.44,212.91 953.58,212.26 953.72,211.63 953.86,211.04 954.00,210.48 954.14,209.94 954.27,209.43 954.41,208.95 954.55,208.49 954.69,208.05 954.83,207.63 954.97,207.23 955.11,206.85 955.24,206.48 955.38,206.13 955.52,205.79 955.66,205.47 955.80,205.16 955.94,204.87 956.08,204.58 956.21,204.30 956.35,204.04 956.49,203.78 956.63,203.54 956.77,203.30 956.91,203.06 957.05,202.84 957.18,202.62 957.32,202.41 957.46,202.20 957.60,202.00 957.74,201.81 957.88,201.62 958.02,201.43 958.15,201.25 958.29,201.07" fill="none" stroke="#983b61" stroke-width="2.0" stroke-linejoin="round" stroke-linecap="round"/>
<polyline points="807.72,200.37 807.92,200.21 808.12,200.05 808.32,199.89 808.52,199.73 808.72,199.58 808.92,199.43 809.12,199.27 809.33,199.12 809.53,198.98 809.73,198.83 809.93,198.68 810.13,198.53 810.33,198.39 810.53,198.24 810.73,198.10 810.93,197.95 811.13,197.81 811.33,197.66 811.53,197.51 811.73,197.36 811.94,197.21 812.14,197.05 812.34,196.90 812.54,196.73 812.74,196.57 812.94,196.40 813.14,196.23 813.34,196.05 813.54,195.86 813.74,195.67 813.94,195.46 814.14,195.25 814.34,195.03 814.55,194.79 814.75,194.54 814.95,194.28 815.15,194.00 815.35,193.71 815.55,193.39 815.75,193.05" fill="none" stroke="#983b61" stroke-width="2.6" stroke-linejoin="round" stroke-linecap="round"/>
<polyline points="816.70,210.80 817.25,216.80 817.58,215.02 817.90,213.44 818.23,212.03 818.55,210.77 818.88,209.63 819.20,208.62 819.52,207.70 819.85,206.86 820.17,206.10 820.50,205.41 820.83,204.77 821.15,204.19 821.48,203.64 821.80,203.14 822.12,202.66 822.45,202.22 822.77,201.80 823.10,201.40 823.42,201.02 823.75,200.66 824.08,200.31 824.40,199.98 824.73,199.65 825.05,199.33 825.38,199.02 825.70,198.71 826.02,198.41 826.35,198.10 826.67,197.80 827.00,197.49 827.33,197.17 827.65,196.84 827.98,196.50 828.30,196.14 828.62,195.75 828.95,195.32 829.27,194.85 829.60,194.33 829.92,193.73 830.25,193.05" fill="none" stroke="#983b61" stroke-width="2.6" stroke-linejoin="round" stroke-linecap="round"/>
<polyline points="831.20,210.80 831.75,216.80 832.09,215.02 832.42,213.44 832.76,212.03 833.10,210.77 833.44,209.63 833.77,208.62 834.11,207.70 834.45,206.86 834.79,206.10 835.12,205.41 835.46,204.77 835.80,204.19 836.14,203.64 836.48,203.14 836.81,202.66 837.15,202.22 837.49,201.80 837.83,201.40 838.16,201.02 838.50,200.66 838.84,200.31 839.17,199.98 839.51,199.65 839.85,199.33 840.19,199.02 840.52,198.71 840.86,198.41 841.20,198.10 841.54,197.80 841.88,197.49 842.21,197.17 842.55,196.84 842.89,196.50 843.23,196.14 843.56,195.75 843.90,195.32 844.24,194.85 844.58,194.33 844.91,193.73 845.25,193.05" fill="none" stroke="#983b61" stroke-width="2.6" stroke-linejoin="round" stroke-linecap="round"/>
<polyline points="846.20,210.80 846.75,216.80 847.10,215.02 847.45,213.44 847.80,212.03 848.15,210.77 848.50,209.63 848.85,208.62 849.20,207.70 849.55,206.86 849.90,206.10 850.25,205.41 850.60,204.77 850.95,204.19 851.30,203.64 851.65,203.14 852.00,202.66 852.35,202.22 852.70,201.80 853.05,201.40 853.40,201.02 853.75,200.66 854.10,200.31 854.45,199.98 854.80,199.65 855.15,199.33 855.50,199.02 855.85,198.71 856.20,198.41 856.55,198.10 856.90,197.80 857.25,197.49 857.60,197.17 857.95,196.84 858.30,196.50 858.65,196.14 859.00,195.75 859.35,195.32 859.70,194.85 860.05,194.33 860.40,193.73 860.75,193.05" fill="none" stroke="#983b61" stroke-width="2.6" stroke-linejoin="round" stroke-linecap="round"/>
<polyline points="861.70,210.80 862.25,216.80 862.58,215.02 862.90,213.44 863.23,212.03 863.55,210.77 863.88,209.63 864.20,208.62 864.52,207.70 864.85,206.86 865.17,206.10 865.50,205.41 865.83,204.77 866.15,204.19 866.48,203.64 866.80,203.14 867.12,202.66 867.45,202.22 867.77,201.80 868.10,201.40 868.42,201.02 868.75,200.66 869.08,200.31 869.40,199.98 869.73,199.65 870.05,199.33 870.38,199.02 870.70,198.71 871.02,198.41 871.35,198.10 871.67,197.80 872.00,197.49 872.33,197.17 872.65,196.84 872.98,196.50 873.30,196.14 873.62,195.75 873.95,195.32 874.27,194.85 874.60,194.33 874.92,193.73 875.25,193.05" fill="none" stroke="#983b61" stroke-width="2.6" stroke-linejoin="round" stroke-linecap="round"/>
<polyline points="876.20,210.80 876.75,216.80 877.13,215.02 877.51,213.44 877.89,212.03 878.27,210.77 878.66,209.63 879.04,208.62 879.42,207.70 879.80,206.86 880.18,206.10 880.56,205.41 880.94,204.77 881.33,204.19 881.71,203.64 882.09,203.14 882.47,202.66 882.85,202.22 883.23,201.80 883.61,201.40 883.99,201.02 884.38,200.66 884.76,200.31 885.14,199.98 885.52,199.65 885.90,199.33 886.28,199.02 886.66,198.71 887.04,198.41 887.42,198.10 887.81,197.80 888.19,197.49 888.57,197.17 888.95,196.84 889.33,196.50 889.71,196.14 890.09,195.75 890.48,195.32 890.86,194.85 891.24,194.33 891.62,193.73 892.00,193.05" fill="none" stroke="#983b61" stroke-width="2.6" stroke-linejoin="round" stroke-linecap="round"/>
<polyline points="892.95,210.80 893.50,216.80 893.84,215.02 894.17,213.44 894.51,212.03 894.85,210.77 895.19,209.63 895.52,208.62 895.86,207.70 896.20,206.86 896.54,206.10 896.88,205.41 897.21,204.77 897.55,204.19 897.89,203.64 898.23,203.14 898.56,202.66 898.90,202.22 899.24,201.80 899.58,201.40 899.91,201.02 900.25,200.66 900.59,200.31 900.92,199.98 901.26,199.65 901.60,199.33 901.94,199.02 902.27,198.71 902.61,198.41 902.95,198.10 903.29,197.80 903.62,197.49 903.96,197.17 904.30,196.84 904.64,196.50 904.98,196.14 905.31,195.75 905.65,195.32 905.99,194.85 906.33,194.33 906.66,193.73 907.00,193.05" fill="none" stroke="#983b61" stroke-width="2.6" stroke-linejoin="round" stroke-linecap="round"/>
<polyline points="907.95,210.80 908.50,216.80 908.84,215.02 909.17,213.44 909.51,212.03 909.85,210.77 910.19,209.63 910.52,208.62 910.86,207.70 911.20,206.86 911.54,206.10 911.88,205.41 912.21,204.77 912.55,204.19 912.89,203.64 913.23,203.14 913.56,202.66 913.90,202.22 914.24,201.80 914.58,201.40 914.91,201.02 915.25,200.66 915.59,200.31 915.92,199.98 916.26,199.65 916.60,199.33 916.94,199.02 917.27,198.71 917.61,198.41 917.95,198.10 918.29,197.80 918.62,197.49 918.96,197.17 919.30,196.84 919.64,196.50 919.98,196.14 920.31,195.75 920.65,195.32 920.99,194.85 921.33,194.33 921.66,193.73 922.00,193.05" fill="none" stroke="#983b61" stroke-width="2.6" stroke-linejoin="round" stroke-linecap="round"/>
<polyline points="922.95,210.80 923.50,216.80 923.83,215.02 924.15,213.44 924.48,212.03 924.80,210.77 925.12,209.63 925.45,208.62 925.77,207.70 926.10,206.86 926.42,206.10 926.75,205.41 927.08,204.77 927.40,204.19 927.73,203.64 928.05,203.14 928.38,202.66 928.70,202.22 929.02,201.80 929.35,201.40 929.67,201.02 930.00,200.66 930.33,200.31 930.65,199.98 930.98,199.65 931.30,199.33 931.62,199.02 931.95,198.71 932.27,198.41 932.60,198.10 932.92,197.80 933.25,197.49 933.58,197.17 933.90,196.84 934.23,196.50 934.55,196.14 934.88,195.75 935.20,195.32 935.52,194.85 935.85,194.33 936.17,193.73 936.50,193.05" fill="none" stroke="#983b61" stroke-width="2.6" stroke-linejoin="round" stroke-linecap="round"/>
<polyline points="937.45,210.80 938.00,216.80 938.33,215.02 938.66,213.44 938.99,212.03 939.33,210.77 939.66,209.63 939.99,208.62 940.32,207.70 940.65,206.86 940.98,206.10 941.31,205.41 941.64,204.77 941.98,204.19 942.31,203.64 942.64,203.14 942.97,202.66 943.30,202.22 943.63,201.80 943.96,201.40 944.29,201.02 944.62,200.66 944.96,200.31 945.29,199.98 945.62,199.65 945.95,199.33 946.28,199.02 946.61,198.71 946.94,198.41 947.27,198.10 947.61,197.80 947.94,197.49 948.27,197.17 948.60,196.84 948.93,196.50 949.26,196.14 949.59,195.75 949.92,195.32 950.26,194.85 950.59,194.33 950.92,193.73 951.25,193.05" fill="none" stroke="#983b61" stroke-width="2.6" stroke-linejoin="round" stroke-linecap="round"/>
<polyline points="952.20,210.80 952.75,216.80 952.89,215.93 953.03,215.12 953.17,214.34 953.30,213.61 953.44,212.91 953.58,212.26 953.72,211.63 953.86,211.04 954.00,210.48 954.14,209.94 954.27,209.43 954.41,208.95 954.55,208.49 954.69,208.05 954.83,207.63 954.97,207.23 955.11,206.85 955.24,206.48 955.38,206.13 955.52,205.79 955.66,205.47 955.80,205.16 955.94,204.87 956.08,204.58 956.21,204.30 956.35,204.04 956.49,203.78 956.63,203.54 956.77,203.30 956.91,203.06 957.05,202.84 957.18,202.62 957.32,202.41 957.46,202.20 957.60,202.00 957.74,201.81 957.88,201.62 958.02,201.43 958.15,201.25 958.29,201.07" fill="none" stroke="#983b61" stroke-width="2.6" stroke-linejoin="round" stroke-linecap="round"/>
<text x="0" y="0" transform="translate(598.70,247.50) rotate(-90)" font-size="22.3" fill="#000" text-anchor="start">20 mV</text>
<polyline points="605.50,219.40 605.50,247.40 634.80,247.40" fill="none" stroke="#000" stroke-width="2" stroke-linejoin="miter" stroke-linecap="butt"/>
<text x="602.80" y="271.60" font-size="22.6" fill="#000" text-anchor="start">500 ms</text>
<polyline points="800.00,219.40 800.00,247.40 829.00,247.40" fill="none" stroke="#000" stroke-width="2" stroke-linejoin="miter" stroke-linecap="butt"/>
<text x="982.30" y="41.50" font-size="53" font-weight="bold" fill="#000" text-anchor="start">c</text>
<text x="0" y="0" transform="translate(1053.50,110.50) rotate(-90)" font-size="30.4" font-weight="bold" fill="#000" text-anchor="middle">Firing rate (Hz)</text>
<polyline points="1108.75,14.00 1108.75,205.50 1322.20,205.50" fill="none" stroke="#000" stroke-width="2.7" stroke-linejoin="miter" stroke-linecap="butt"/>
<line x1="1096.00" y1="15.20" x2="1108.75" y2="15.20" stroke="#000" stroke-width="2.2"/>
<text x="1087.30" y="25.10" font-size="32" fill="#000" text-anchor="end">6</text>
<line x1="1096.00" y1="82.94" x2="1108.75" y2="82.94" stroke="#000" stroke-width="2.2"/>
<text x="1087.30" y="92.84" font-size="32" fill="#000" text-anchor="end">4</text>
<line x1="1096.00" y1="150.68" x2="1108.75" y2="150.68" stroke="#000" stroke-width="2.2"/>
<text x="1087.30" y="160.58" font-size="32" fill="#000" text-anchor="end">2</text>
<line x1="1101.00" y1="49.07" x2="1108.75" y2="49.07" stroke="#000" stroke-width="2.2"/>
<line x1="1101.00" y1="116.81" x2="1108.75" y2="116.81" stroke="#000" stroke-width="2.2"/>
<line x1="1101.00" y1="184.55" x2="1108.75" y2="184.55" stroke="#000" stroke-width="2.2"/>
<line x1="1108.75" y1="205.50" x2="1108.75" y2="212.00" stroke="#000" stroke-width="2.3"/>
<line x1="1162.00" y1="205.50" x2="1162.00" y2="212.00" stroke="#000" stroke-width="2.3"/>
<line x1="1215.00" y1="205.50" x2="1215.00" y2="212.00" stroke="#000" stroke-width="2.3"/>
<line x1="1268.25" y1="205.50" x2="1268.25" y2="212.00" stroke="#000" stroke-width="2.3"/>
<line x1="1321.00" y1="205.50" x2="1321.00" y2="212.00" stroke="#000" stroke-width="2.3"/>
<circle cx="1119.25" cy="150.25" r="2.3" fill="#fff" stroke="#000" stroke-width="1.25"/>
<circle cx="1129.50" cy="133.25" r="2.3" fill="#fff" stroke="#000" stroke-width="1.25"/>
<circle cx="1150.75" cy="133.25" r="2.3" fill="#fff" stroke="#000" stroke-width="1.25"/>
<circle cx="1140.50" cy="180.50" r="2.3" fill="#fff" stroke="#000" stroke-width="1.25"/>
<line x1="1135.50" y1="143.00" x2="1135.50" y2="158.00" stroke="#000" stroke-width="2.2"/>
<line x1="1128.50" y1="143.00" x2="1142.50" y2="143.00" stroke="#000" stroke-width="2.2"/>
<line x1="1128.50" y1="158.00" x2="1142.50" y2="158.00" stroke="#000" stroke-width="2.2"/>
<circle cx="1135.50" cy="150.40" r="7" fill="#000" stroke="none" stroke-width="0"/>
<circle cx="1129.00" cy="153.00" r="2.3" fill="#fff" stroke="#000" stroke-width="1.25"/>
<circle cx="1140.75" cy="150.00" r="2.3" fill="#fff" stroke="#000" stroke-width="1.25"/>
<circle cx="1188.25" cy="116.25" r="2.3" fill="#fff" stroke="#983b61" stroke-width="1.25"/>
<circle cx="1173.75" cy="163.75" r="2.3" fill="#fff" stroke="#983b61" stroke-width="1.25"/>
<circle cx="1181.25" cy="190.50" r="2.3" fill="#fff" stroke="#983b61" stroke-width="1.25"/>
<circle cx="1195.00" cy="187.25" r="2.3" fill="#fff" stroke="#983b61" stroke-width="1.25"/>
<circle cx="1202.50" cy="183.50" r="2.3" fill="#fff" stroke="#983b61" stroke-width="1.25"/>
<line x1="1188.25" y1="156.25" x2="1188.25" y2="179.25" stroke="#000" stroke-width="2.2"/>
<line x1="1181.25" y1="156.25" x2="1195.25" y2="156.25" stroke="#000" stroke-width="2.2"/>
<line x1="1181.25" y1="179.25" x2="1195.25" y2="179.25" stroke="#000" stroke-width="2.2"/>
<circle cx="1188.25" cy="167.75" r="7.5" fill="#983b61" stroke="none" stroke-width="0"/>
<circle cx="1188.00" cy="157.00" r="2.3" fill="#fff" stroke="#983b61" stroke-width="1.25"/>
<circle cx="1241.25" cy="116.25" r="2.3" fill="#fff" stroke="#983b61" stroke-width="1.25"/>
<circle cx="1234.25" cy="157.00" r="2.3" fill="#fff" stroke="#983b61" stroke-width="1.25"/>
<circle cx="1248.25" cy="157.00" r="2.3" fill="#fff" stroke="#983b61" stroke-width="1.25"/>
<circle cx="1241.25" cy="191.00" r="2.3" fill="#fff" stroke="#983b61" stroke-width="1.25"/>
<circle cx="1227.00" cy="201.00" r="2.3" fill="#fff" stroke="#983b61" stroke-width="1.25"/>
<circle cx="1255.50" cy="201.00" r="2.3" fill="#fff" stroke="#983b61" stroke-width="1.25"/>
<line x1="1241.25" y1="157.50" x2="1241.25" y2="184.75" stroke="#000" stroke-width="2.2"/>
<line x1="1234.25" y1="157.50" x2="1248.25" y2="157.50" stroke="#000" stroke-width="2.2"/>
<line x1="1234.25" y1="184.75" x2="1248.25" y2="184.75" stroke="#000" stroke-width="2.2"/>
<circle cx="1241.25" cy="171.00" r="7.5" fill="#983b61" stroke="none" stroke-width="0"/>
<circle cx="1294.50" cy="38.25" r="2.3" fill="#fff" stroke="#983b61" stroke-width="1.25"/>
<circle cx="1287.50" cy="65.75" r="2.3" fill="#fff" stroke="#983b61" stroke-width="1.25"/>
<circle cx="1301.75" cy="72.50" r="2.3" fill="#fff" stroke="#983b61" stroke-width="1.25"/>
<circle cx="1308.75" cy="85.75" r="2.3" fill="#fff" stroke="#983b61" stroke-width="1.25"/>
<circle cx="1280.50" cy="92.50" r="2.3" fill="#fff" stroke="#983b61" stroke-width="1.25"/>
<circle cx="1294.50" cy="120.00" r="2.3" fill="#fff" stroke="#983b61" stroke-width="1.25"/>
<circle cx="1294.50" cy="167.00" r="2.3" fill="#fff" stroke="#983b61" stroke-width="1.25"/>
<line x1="1295.00" y1="80.75" x2="1295.00" y2="108.75" stroke="#000" stroke-width="2.2"/>
<line x1="1288.00" y1="80.75" x2="1302.00" y2="80.75" stroke="#000" stroke-width="2.2"/>
<line x1="1288.00" y1="108.75" x2="1302.00" y2="108.75" stroke="#000" stroke-width="2.2"/>
<circle cx="1295.00" cy="95.00" r="7.5" fill="#983b61" stroke="none" stroke-width="0"/>
<circle cx="1294.50" cy="109.50" r="2.3" fill="#fff" stroke="#983b61" stroke-width="1.25"/>
<text x="1294.50" y="66.00" font-size="30" font-weight="bold" fill="#c00000" text-anchor="middle">**</text>
<text x="0" y="0" transform="translate(1144.70,233.40) rotate(-34)" font-size="30" font-weight="bold" fill="#000" text-anchor="end">control</text>
<text x="0" y="0" transform="translate(1197.80,233.40) rotate(-34)" font-size="30" font-weight="bold" fill="#000" text-anchor="end">5 min</text>
<text x="0" y="0" transform="translate(1250.90,233.40) rotate(-34)" font-size="30" font-weight="bold" fill="#000" text-anchor="end">10 min</text>
<text x="0" y="0" transform="translate(1304.20,233.40) rotate(-34)" font-size="30" font-weight="bold" fill="#000" text-anchor="end">120 min</text>
<text x="1341.50" y="41.50" font-size="53" font-weight="bold" fill="#000" text-anchor="start">d</text>
<text x="1397.30" y="38.00" font-size="30.2" font-weight="bold" fill="#000" text-anchor="start">control</text>
<text x="1619.00" y="38.00" font-size="30.2" font-weight="bold" fill="#983b61" text-anchor="middle">rotenone</text>
<text x="1619.00" y="75.20" font-size="30.3" font-weight="bold" fill="#983b61" text-anchor="middle">(120 min)</text>
<text x="1360.00" y="158.00" font-size="23.5" fill="#000" text-anchor="start">0</text>
<line x1="1376.20" y1="149.50" x2="1521.50" y2="149.50" stroke="#5e5e5e" stroke-width="2.1" stroke-dasharray="2.1 2.4"/>
<line x1="1548.00" y1="149.50" x2="1693.50" y2="149.50" stroke="#5e5e5e" stroke-width="2.1" stroke-dasharray="2.1 2.4"/>
<polyline points="1377.50,199.39 1378.46,199.34 1379.42,198.96 1380.38,198.87 1381.34,199.01 1382.30,198.28 1383.26,198.42 1384.22,198.03 1385.18,198.23 1386.14,198.15 1387.10,197.72 1388.06,197.29 1389.02,197.38 1389.98,197.17 1390.94,197.08 1391.90,196.76 1392.86,196.62 1393.82,196.51 1394.78,196.10 1395.74,195.78 1396.70,195.84 1397.66,195.11 1398.62,195.09 1399.58,194.56 1400.54,194.37 1401.50,193.47 1402.46,193.31 1403.42,191.97 1404.38,190.33 1405.34,188.15 1406.30,184.44 1407.80,172.00 1408.70,120.00 1409.20,80.00 1409.80,120.00 1411.00,200.00 1411.90,222.00 1413.50,226.50 1415.28,226.67 1417.05,227.43 1418.83,227.77 1420.60,228.24 1422.38,228.15 1424.15,228.21 1425.92,228.26 1427.70,228.72 1429.47,228.89 1431.25,228.56 1433.03,228.28 1434.80,228.70 1436.58,228.31 1438.35,228.10 1440.12,227.95 1441.90,228.37 1443.67,228.30 1445.45,228.06 1447.22,227.82 1449.00,227.78 1450.78,227.40 1452.55,227.87 1454.33,227.26 1456.10,227.37 1457.88,227.39 1459.65,227.26 1461.42,226.85 1463.20,226.58 1464.97,226.65 1466.75,226.18 1468.53,226.61 1470.30,226.10 1472.08,226.36 1473.85,225.76 1475.62,225.71 1477.40,225.47 1479.17,225.47 1480.95,225.14 1482.72,224.85 1484.50,225.29 1486.28,224.80 1488.05,224.63 1489.83,224.53 1491.60,224.53 1493.38,224.35 1495.15,224.37 1496.92,224.24 1498.70,223.86 1500.47,224.17 1502.25,223.97 1504.03,223.18 1505.80,223.65 1507.58,223.57 1509.35,223.33 1511.12,222.66 1512.90,223.07 1514.67,222.76 1516.45,222.12 1518.22,221.97 1520.00,222.57" fill="none" stroke="#000" stroke-width="3.0" stroke-linejoin="round" stroke-linecap="round"/>
<text x="0" y="0" transform="translate(1367.50,247.00) rotate(-90)" font-size="22.3" fill="#000" text-anchor="start">20 mV</text>
<polyline points="1374.30,219.40 1374.30,247.40 1404.00,247.40" fill="none" stroke="#000" stroke-width="2" stroke-linejoin="miter" stroke-linecap="butt"/>
<text x="1372.90" y="271.60" font-size="22.6" fill="#000" text-anchor="start">20 ms</text>
<polyline points="1546.50,219.40 1546.50,247.40 1575.30,247.40" fill="none" stroke="#000" stroke-width="2" stroke-linejoin="miter" stroke-linecap="butt"/>
<polyline points="1548.80,191.61 1550.04,191.11 1551.29,190.80 1552.53,190.62 1553.78,190.47 1555.02,190.64 1556.27,190.13 1557.51,189.78 1558.76,190.09 1560.00,189.80 1561.25,189.11 1562.50,189.35 1563.75,188.89 1565.00,188.75 1566.25,188.41 1567.50,188.30 1568.75,187.96 1570.00,187.74 1571.40,186.69 1572.80,186.43 1574.20,185.72 1575.60,185.27 1577.00,184.46 1578.75,182.52 1580.50,180.00 1582.50,171.00 1583.60,154.00 1584.20,130.00 1584.70,91.20 1585.40,130.00 1586.20,160.00 1587.20,180.00 1588.40,189.50 1590.00,195.50 1591.70,198.15 1593.40,200.84 1594.72,201.24 1596.04,201.81 1597.36,202.35 1598.68,203.20 1600.00,203.49 1601.40,204.02 1602.80,204.03 1604.20,204.51 1605.60,204.76 1607.00,205.03 1608.25,205.35 1609.50,204.85 1610.75,205.54 1612.00,205.38 1613.25,205.54 1614.50,205.72 1615.81,205.88 1617.12,205.59 1618.44,205.66 1619.75,206.07 1621.06,205.49 1622.38,205.92 1623.69,205.96 1625.00,205.57 1626.25,205.90 1627.50,205.88 1628.75,205.98 1630.00,205.48 1631.25,205.86 1632.50,205.46 1633.75,205.36 1635.00,205.58 1636.25,204.90 1637.50,205.30 1638.75,205.16 1640.00,204.89 1641.25,205.15 1642.50,204.71 1643.75,204.68 1645.00,204.62 1646.25,204.69 1647.50,204.20 1648.75,204.25 1650.00,204.15 1651.25,204.14 1652.50,204.23 1653.75,203.76 1655.00,204.03 1656.25,203.63 1657.50,203.60 1658.75,203.34 1660.00,203.40 1661.25,203.63 1662.50,203.31 1663.75,203.30 1665.00,202.88 1666.25,202.77 1667.50,202.66 1668.75,202.76 1670.00,202.69 1671.21,202.71 1672.42,202.10 1673.63,202.49 1674.84,202.51 1676.06,202.19 1677.27,201.75 1678.48,201.84 1679.69,201.54 1680.90,201.58 1682.11,202.01 1683.32,201.70 1684.53,201.64 1685.74,201.65 1686.96,201.64 1688.17,201.34 1689.38,201.26 1690.59,201.18 1691.80,201.00" fill="none" stroke="#983b61" stroke-width="3.0" stroke-linejoin="round" stroke-linecap="round"/>
<text x="1711.70" y="41.50" font-size="53" font-weight="bold" fill="#000" text-anchor="start">e</text>
<text x="0" y="0" transform="translate(1792.30,123.00) rotate(-90)" font-size="30.5" font-weight="bold" fill="#000" text-anchor="middle">AHP ampl. (mV)</text>
<polyline points="1868.25,15.41 1868.25,206.30 1971.20,206.30" fill="none" stroke="#000" stroke-width="2.7" stroke-linejoin="miter" stroke-linecap="butt"/>
<line x1="1854.50" y1="41.20" x2="1868.25" y2="41.20" stroke="#000" stroke-width="2.2"/>
<text x="1846.70" y="51.10" font-size="32" fill="#000" text-anchor="end">30</text>
<line x1="1854.50" y1="90.58" x2="1868.25" y2="90.58" stroke="#000" stroke-width="2.2"/>
<text x="1846.70" y="100.48" font-size="32" fill="#000" text-anchor="end">24</text>
<line x1="1854.50" y1="139.96" x2="1868.25" y2="139.96" stroke="#000" stroke-width="2.2"/>
<text x="1846.70" y="149.86" font-size="32" fill="#000" text-anchor="end">18</text>
<line x1="1854.50" y1="189.34" x2="1868.25" y2="189.34" stroke="#000" stroke-width="2.2"/>
<text x="1846.70" y="199.24" font-size="32" fill="#000" text-anchor="end">12</text>
<line x1="1860.70" y1="16.51" x2="1868.25" y2="16.51" stroke="#000" stroke-width="2.2"/>
<line x1="1860.70" y1="65.89" x2="1868.25" y2="65.89" stroke="#000" stroke-width="2.2"/>
<line x1="1860.70" y1="115.27" x2="1868.25" y2="115.27" stroke="#000" stroke-width="2.2"/>
<line x1="1860.70" y1="164.65" x2="1868.25" y2="164.65" stroke="#000" stroke-width="2.2"/>
<line x1="1868.25" y1="206.30" x2="1868.25" y2="212.80" stroke="#000" stroke-width="2.3"/>
<line x1="1919.50" y1="206.30" x2="1919.50" y2="212.80" stroke="#000" stroke-width="2.3"/>
<line x1="1970.00" y1="206.30" x2="1970.00" y2="212.80" stroke="#000" stroke-width="2.3"/>
<circle cx="1901.25" cy="21.25" r="2.3" fill="#fff" stroke="#000" stroke-width="1.25"/>
<circle cx="1884.50" cy="37.50" r="2.3" fill="#fff" stroke="#000" stroke-width="1.25"/>
<circle cx="1897.00" cy="56.25" r="2.3" fill="#fff" stroke="#000" stroke-width="1.25"/>
<circle cx="1888.75" cy="82.50" r="2.3" fill="#fff" stroke="#000" stroke-width="1.25"/>
<circle cx="1892.75" cy="100.00" r="2.3" fill="#fff" stroke="#000" stroke-width="1.25"/>
<circle cx="1901.25" cy="100.00" r="2.3" fill="#fff" stroke="#000" stroke-width="1.25"/>
<circle cx="1909.00" cy="107.50" r="2.3" fill="#fff" stroke="#000" stroke-width="1.25"/>
<circle cx="1884.50" cy="115.50" r="2.3" fill="#fff" stroke="#000" stroke-width="1.25"/>
<circle cx="1876.50" cy="120.00" r="2.3" fill="#fff" stroke="#000" stroke-width="1.25"/>
<line x1="1893.30" y1="60.75" x2="1893.30" y2="87.50" stroke="#000" stroke-width="2.2"/>
<line x1="1886.30" y1="60.75" x2="1900.30" y2="60.75" stroke="#000" stroke-width="2.2"/>
<line x1="1886.30" y1="87.50" x2="1900.30" y2="87.50" stroke="#000" stroke-width="2.2"/>
<circle cx="1893.30" cy="74.30" r="7.5" fill="#000" stroke="none" stroke-width="0"/>
<circle cx="1937.00" cy="99.50" r="2.3" fill="#fff" stroke="#983b61" stroke-width="1.25"/>
<circle cx="1950.75" cy="115.75" r="2.3" fill="#fff" stroke="#983b61" stroke-width="1.25"/>
<circle cx="1944.00" cy="132.00" r="2.3" fill="#fff" stroke="#983b61" stroke-width="1.25"/>
<circle cx="1957.50" cy="140.50" r="2.3" fill="#fff" stroke="#983b61" stroke-width="1.25"/>
<circle cx="1930.25" cy="165.00" r="2.3" fill="#fff" stroke="#983b61" stroke-width="1.25"/>
<circle cx="1930.25" cy="198.00" r="2.3" fill="#fff" stroke="#983b61" stroke-width="1.25"/>
<circle cx="1944.00" cy="199.75" r="2.3" fill="#fff" stroke="#983b61" stroke-width="1.25"/>
<circle cx="1957.50" cy="189.75" r="2.3" fill="#fff" stroke="#983b61" stroke-width="1.25"/>
<line x1="1944.00" y1="141.25" x2="1944.00" y2="168.00" stroke="#000" stroke-width="2.2"/>
<line x1="1937.00" y1="141.25" x2="1951.00" y2="141.25" stroke="#000" stroke-width="2.2"/>
<line x1="1937.00" y1="168.00" x2="1951.00" y2="168.00" stroke="#000" stroke-width="2.2"/>
<circle cx="1944.00" cy="155.00" r="7.5" fill="#983b61" stroke="none" stroke-width="0"/>
<text x="1945.00" y="97.50" font-size="30" font-weight="bold" fill="#c00000" text-anchor="middle">***</text>
<text x="0" y="0" transform="translate(1903.20,234.00) rotate(-34)" font-size="30" font-weight="bold" fill="#000" text-anchor="end">control</text>
<text x="0" y="0" transform="translate(1954.00,234.00) rotate(-34)" font-size="30" font-weight="bold" fill="#000" text-anchor="end">120 min</text>
<text x="8.00" y="367.20" font-size="53" font-weight="bold" fill="#000" text-anchor="start">f</text>
<polygon points="55.5,411.9 63.1,419.5 55.5,427.1 47.9,419.5" fill="#000"/>
<text x="87.30" y="446.50" font-size="30.2" font-weight="bold" fill="#000" text-anchor="start">control</text>
<text x="138.50" y="530.50" font-size="30" font-weight="bold" fill="#983b61" text-anchor="middle">rotenone</text>
<text x="139.00" y="567.30" font-size="30.4" font-weight="bold" fill="#983b61" text-anchor="middle">(120 min)</text>
<line x1="32.00" y1="627.50" x2="237.50" y2="627.50" stroke="#5e5e5e" stroke-width="2.1" stroke-dasharray="2.1 2.4"/>
<text x="239.80" y="634.80" font-size="23.5" fill="#000" text-anchor="start">0</text>
<polyline points="45.80,626.50 47.20,560.00 48.60,500.00 50.50,450.00 52.50,436.00 54.00,434.40 56.00,438.12 57.33,441.85 58.67,443.93 60.00,447.02 61.25,449.17 62.50,450.37 63.75,453.02 65.00,455.26 66.25,457.09 67.50,457.19 68.75,459.11 70.00,460.18 71.25,462.99 72.50,464.14 73.75,464.21 75.00,467.46 76.25,468.43 77.50,468.81 78.75,469.73 80.00,469.81 81.25,470.03 82.50,471.56 83.75,471.12 85.00,471.88 86.25,472.48 87.50,472.56 88.75,473.93 90.00,474.38 91.25,475.56 92.50,475.29 93.75,475.91 95.00,476.00 96.25,476.70 97.50,476.66 98.75,476.68 100.00,478.50 101.25,478.87 102.50,478.93 103.75,479.04 105.00,478.63 106.25,478.83 107.50,479.33 108.75,479.27 110.00,481.03 111.25,480.63 112.50,481.86 113.75,481.27 115.00,482.75 116.25,482.86 117.50,481.50 118.75,482.25 120.00,483.99 121.25,483.44 122.50,484.79 123.75,483.96 125.00,483.65 126.25,484.51 127.50,484.56 128.75,483.29 130.00,482.67 131.25,483.48 132.50,485.05 133.75,484.95 135.00,483.99 136.25,484.56 137.50,484.58 138.75,484.81 140.00,486.59 141.25,485.42 142.50,486.24 143.75,486.08 145.00,485.63 146.25,486.78 147.50,485.64 148.75,486.72 150.00,485.73 151.25,486.53 152.50,486.30 153.75,486.60 155.00,488.19 156.25,488.04 157.50,487.23 158.75,488.58 160.00,487.42 161.25,487.91 162.50,488.96 163.75,488.66 165.00,487.70 166.25,489.60 167.50,488.18 168.75,488.39 170.00,489.55 171.25,488.78 172.50,488.84 173.75,488.52 175.00,488.68 176.25,489.85 177.50,489.36 178.75,490.27 180.00,489.99 181.25,490.34 182.50,491.54 183.75,490.78 185.00,491.15 186.25,491.88 187.50,490.67 188.75,490.76 190.00,492.42 191.25,492.39 192.50,491.40 193.75,491.43 195.00,492.68 196.25,493.23 197.50,491.89 198.75,493.55 200.00,493.56 201.25,493.22 202.50,493.07 203.75,492.65 205.00,492.73 206.25,494.79 207.50,493.55 208.75,494.70 210.00,494.01 211.20,495.20 212.40,494.79 213.60,494.24 214.80,494.05 216.00,495.19 217.20,493.94 218.40,494.31 219.60,495.02 220.80,495.65 222.00,495.23 224.30,495.50 224.60,626.50" fill="none" stroke="#000" stroke-width="3.3" stroke-linejoin="round" stroke-linecap="round"/>
<polyline points="47.20,626.50 48.40,570.00 50.00,510.00 52.00,465.00 53.50,455.00 55.00,452.99 57.00,456.58 58.25,458.34 59.50,460.82 60.75,463.93 62.00,466.92 63.33,468.55 64.67,470.88 66.00,473.32 67.33,475.20 68.67,476.18 70.00,478.11 71.25,480.02 72.50,481.32 73.75,482.04 75.00,483.27 76.25,484.12 77.50,484.50 78.75,485.35 80.00,486.33 81.25,488.01 82.50,488.16 83.75,488.96 85.00,488.08 86.25,489.38 87.50,489.60 88.75,490.39 90.00,490.25 91.25,491.55 92.50,490.61 93.75,491.61 95.00,492.23 96.25,492.81 97.50,492.93 98.75,493.24 100.00,493.71 101.25,494.16 102.50,493.64 103.75,494.38 105.00,494.96 106.25,495.19 107.50,494.83 108.75,495.63 110.00,496.01 111.25,495.84 112.50,496.14 113.75,496.04 115.00,496.55 116.25,496.82 117.50,496.31 118.75,497.33 120.00,498.06 121.25,498.13 122.50,498.15 123.75,497.91 125.00,498.63 126.25,498.51 127.50,498.42 128.75,499.07 130.00,498.12 131.25,499.15 132.50,498.24 133.75,499.14 135.00,499.07 136.25,498.82 137.50,499.58 138.75,499.40 140.00,499.66 141.25,500.25 142.50,499.48 143.75,499.30 145.00,499.87 146.25,500.56 147.50,500.06 148.75,500.17 150.00,501.37 151.25,501.09 152.50,500.84 153.75,501.54 155.00,500.81 156.25,501.34 157.50,500.75 158.75,501.14 160.00,501.73 161.25,502.00 162.50,502.08 163.75,501.51 165.00,501.92 166.25,501.67 167.50,501.54 168.75,502.17 170.00,502.77 171.25,502.91 172.50,502.85 173.75,503.31 175.00,502.49 176.25,502.49 177.50,503.03 178.75,502.94 180.00,503.00 181.25,503.43 182.50,503.88 183.75,503.84 185.00,503.74 186.25,504.62 187.50,504.97 188.75,504.38 190.00,504.00 191.25,504.09 192.50,505.42 193.75,504.41 195.00,505.49 196.25,505.45 197.50,505.23 198.75,506.06 200.00,505.13 201.25,505.38 202.50,505.91 203.75,505.40 205.00,506.61 206.25,505.87 207.50,505.82 208.75,505.78 210.00,506.68 211.20,506.53 212.40,506.88 213.60,507.02 214.80,507.33 216.00,507.64 217.20,507.36 218.40,506.78 219.60,507.27 220.80,506.95 222.00,506.82 223.80,508.00 224.00,626.50" fill="none" stroke="#983b61" stroke-width="3.3" stroke-linejoin="round" stroke-linecap="round"/>
<line x1="225.60" y1="564.00" x2="225.60" y2="577.00" stroke="#000" stroke-width="1.6"/>
<text x="0" y="0" transform="translate(20.00,642.50) rotate(-90)" font-size="22.3" fill="#000" text-anchor="start">500 pA</text>
<polyline points="27.20,592.60 27.20,643.00 101.50,643.00" fill="none" stroke="#000" stroke-width="2" stroke-linejoin="miter" stroke-linecap="butt"/>
<text x="24.30" y="667.30" font-size="22.6" fill="#000" text-anchor="start">20 ms</text>
<text x="247.70" y="367.00" font-size="53" font-weight="bold" fill="#000" text-anchor="start">g</text>
<text x="0" y="0" transform="translate(320.30,479.30) rotate(-90)" font-size="32.9" font-weight="bold" fill="#000" text-anchor="middle">Peak current</text>
<text x="0" y="0" transform="translate(361.60,474.60) rotate(-90)" font-size="32.6" font-weight="bold" fill="#000" text-anchor="middle">density (pA/pF)</text>
<polygon points="437.5,352.4 445.1,360 437.5,367.6 429.9,360" fill="#000"/>
<line x1="440.50" y1="374.00" x2="440.50" y2="561.10" stroke="#000" stroke-width="2.4"/>
<line x1="427.00" y1="561.10" x2="531.50" y2="561.10" stroke="#000" stroke-width="2.4"/>
<line x1="427.00" y1="388.72" x2="440.50" y2="388.72" stroke="#000" stroke-width="2.2"/>
<text x="418.80" y="398.32" font-size="29.6" fill="#000" text-anchor="end">60</text>
<line x1="427.00" y1="446.18" x2="440.50" y2="446.18" stroke="#000" stroke-width="2.2"/>
<text x="418.80" y="455.78" font-size="29.6" fill="#000" text-anchor="end">40</text>
<line x1="427.00" y1="503.64" x2="440.50" y2="503.64" stroke="#000" stroke-width="2.2"/>
<text x="418.80" y="513.24" font-size="29.6" fill="#000" text-anchor="end">20</text>
<text x="418.80" y="570.70" font-size="29.6" fill="#000" text-anchor="end">0</text>
<line x1="433.00" y1="417.45" x2="440.50" y2="417.45" stroke="#000" stroke-width="2.2"/>
<line x1="433.00" y1="474.91" x2="440.50" y2="474.91" stroke="#000" stroke-width="2.2"/>
<line x1="433.00" y1="532.37" x2="440.50" y2="532.37" stroke="#000" stroke-width="2.2"/>
<line x1="444.30" y1="561.10" x2="444.30" y2="567.50" stroke="#000" stroke-width="2.2"/>
<line x1="487.00" y1="561.10" x2="487.00" y2="567.50" stroke="#000" stroke-width="2.2"/>
<line x1="530.00" y1="561.10" x2="530.00" y2="567.50" stroke="#000" stroke-width="2.2"/>
<path d="M448.00,561.10 V449.30 H482.50 V561.10" fill="none" stroke="#000" stroke-width="5.4" stroke-linejoin="round"/>
<path d="M491.30,561.10 V466.80 H525.80 V561.10" fill="none" stroke="#983b61" stroke-width="5.4" stroke-linejoin="round"/>
<line x1="466.30" y1="432.00" x2="466.30" y2="447.00" stroke="#000" stroke-width="2.2"/>
<line x1="459.80" y1="432.00" x2="472.80" y2="432.00" stroke="#000" stroke-width="2.2"/>
<line x1="508.00" y1="455.80" x2="508.00" y2="464.50" stroke="#000" stroke-width="2.2"/>
<line x1="501.50" y1="455.80" x2="514.50" y2="455.80" stroke="#000" stroke-width="2.2"/>
<circle cx="465.50" cy="378.75" r="2.3" fill="#fff" stroke="#000" stroke-width="1.25"/>
<circle cx="459.50" cy="428.75" r="2.3" fill="#fff" stroke="#000" stroke-width="1.25"/>
<circle cx="470.50" cy="439.00" r="2.3" fill="#fff" stroke="#000" stroke-width="1.25"/>
<circle cx="453.75" cy="478.25" r="2.3" fill="#fff" stroke="#000" stroke-width="1.25"/>
<circle cx="465.50" cy="478.75" r="2.3" fill="#fff" stroke="#000" stroke-width="1.25"/>
<circle cx="476.75" cy="488.75" r="2.3" fill="#fff" stroke="#000" stroke-width="1.25"/>
<circle cx="508.00" cy="413.75" r="2.3" fill="#fff" stroke="#983b61" stroke-width="1.25"/>
<circle cx="508.00" cy="422.50" r="2.3" fill="#fff" stroke="#983b61" stroke-width="1.25"/>
<circle cx="496.25" cy="454.50" r="2.3" fill="#fff" stroke="#983b61" stroke-width="1.25"/>
<circle cx="508.00" cy="464.50" r="2.3" fill="#fff" stroke="#983b61" stroke-width="1.25"/>
<circle cx="519.25" cy="466.25" r="2.3" fill="#fff" stroke="#983b61" stroke-width="1.25"/>
<circle cx="496.25" cy="480.00" r="2.3" fill="#fff" stroke="#983b61" stroke-width="1.25"/>
<circle cx="508.00" cy="477.00" r="2.3" fill="#fff" stroke="#983b61" stroke-width="1.25"/>
<circle cx="519.25" cy="499.50" r="2.3" fill="#fff" stroke="#983b61" stroke-width="1.25"/>
<circle cx="508.00" cy="521.25" r="2.3" fill="#fff" stroke="#983b61" stroke-width="1.25"/>
<text x="465.30" y="554.00" font-size="23.5" font-weight="bold" fill="#000" text-anchor="middle">6</text>
<text x="508.30" y="554.00" font-size="23.5" font-weight="bold" fill="#000" text-anchor="middle">9</text>
<text x="0" y="0" transform="translate(477.00,586.80) rotate(-44)" font-size="31.6" font-weight="bold" fill="#000" text-anchor="end">control</text>
<text x="0" y="0" transform="translate(519.50,586.80) rotate(-44)" font-size="31.6" font-weight="bold" fill="#000" text-anchor="end">120 min</text>
<text x="535.00" y="367.20" font-size="53" font-weight="bold" fill="#000" text-anchor="start">h</text>
<polyline points="571.00,412.00 586.80,412.00 586.80,556.00 571.50,556.00" fill="none" stroke="#000" stroke-width="2" stroke-linejoin="miter" stroke-linecap="butt"/>
<text x="569.80" y="419.80" font-size="22.6" fill="#000" text-anchor="end">0</text>
<text x="569.80" y="564.50" font-size="22.6" fill="#000" text-anchor="end">1</text>
<line x1="588.00" y1="412.00" x2="782.50" y2="412.00" stroke="#5e5e5e" stroke-width="2.1" stroke-dasharray="2.1 2.4"/>
<polygon points="616.1,395.7 631.3000000000001,395.7 623.7,410.3" fill="#000"/>
<text x="626" y="389.5" font-size="30" font-weight="bold" fill="#983b61">rotenone<tspan font-size="20.3" dy="-8.8">CoCl</tspan><tspan font-size="14.5" dy="4.6">2</tspan><tspan font-size="20.3" dy="-4.6">-sens.</tspan></text>
<text x="626" y="578" font-size="30.2" font-weight="bold" fill="#000">control<tspan font-size="20.3" dy="-8.8">CoCl</tspan><tspan font-size="14.5" dy="4.6">2</tspan><tspan font-size="20.3" dy="-4.6">-sens.</tspan></text>
<polyline points="602.30,411.96 603.20,440.34 604.60,469.49 606.30,491.64 608.00,511.75 609.00,520.32 610.00,528.03 611.25,535.18 612.50,542.41 613.50,546.08 614.50,550.97 616.30,554.95 618.00,551.34 619.25,549.19 620.50,545.36 621.62,541.11 622.75,538.33 623.88,535.30 625.00,532.46 626.00,529.54 627.00,527.79 628.00,526.23 629.00,524.03 630.00,522.21 631.05,520.03 632.10,518.91 633.15,516.78 634.20,516.19 635.25,514.93 636.30,513.23 637.47,511.35 638.65,508.54 639.83,507.64 641.00,505.77 642.00,504.39 643.00,502.31 644.00,501.34 645.00,499.21 646.00,498.57 647.00,496.90 648.00,494.51 649.00,492.50 650.00,491.49 651.00,490.08 652.08,489.10 653.17,487.31 654.25,485.25 655.33,485.16 656.42,482.64 657.50,482.48 658.58,480.39 659.67,479.57 660.75,479.21 661.83,477.09 662.92,476.02 664.00,475.53 665.00,475.07 666.00,474.48 667.00,473.45 668.00,473.08 669.00,471.57 670.00,471.52 671.00,469.50 672.00,469.09 673.00,468.94 674.00,467.93 675.00,468.00 676.00,467.22 677.08,466.42 678.17,466.32 679.25,465.25 680.33,464.23 681.42,463.73 682.50,463.85 683.60,463.38 684.70,461.71 685.80,462.18 686.90,461.81 688.00,460.54 689.00,460.19 690.00,459.16 691.00,459.27 692.00,458.79 693.00,458.53 694.00,457.17 695.00,458.25 696.00,457.15 697.00,456.59 698.00,456.86 699.00,456.10 700.00,455.61 701.00,455.56 702.00,454.18 703.00,454.56 704.00,453.99 705.00,454.48 706.00,454.05 707.00,452.63 708.00,452.69 709.00,451.86 710.00,452.09 711.00,452.43 712.00,452.29 713.00,451.35 714.00,450.82 715.00,450.35 716.00,450.77 717.00,450.99 718.00,449.45 719.00,450.22 720.00,448.74 721.00,448.68 722.00,448.40 723.00,448.80 724.00,447.88 725.00,447.60 726.00,447.69 727.00,446.53 728.00,447.20 729.00,445.90 730.00,446.18 731.00,445.43 732.00,445.02 733.00,445.28 734.00,444.86 735.00,444.49 736.00,444.28 737.00,444.20 738.00,443.34 739.00,443.14 740.00,443.56 741.00,443.30 742.00,442.86 743.00,443.10 744.00,442.45 745.00,442.57 746.00,441.37 747.00,441.99 748.00,441.90 749.00,441.84 750.00,440.71 751.00,440.50 752.00,441.28 753.00,439.95 754.00,441.00 755.00,440.62 756.00,439.23 757.00,439.21 758.00,439.80 759.00,438.86 760.00,438.41 761.00,439.40 762.00,438.55 763.00,438.95 764.00,437.70" fill="none" stroke="#000" stroke-width="3.6" stroke-linejoin="round" stroke-linecap="round"/>
<polyline points="592.70,416.30 594.00,417.60 596.00,416.40 598.00,417.60 600.30,416.60 601.20,415.50 601.80,369.50 602.30,412.00 603.40,439.86 605.00,462.26 606.25,475.07 607.50,489.08 608.75,494.51 610.00,499.58 611.25,502.41 612.50,503.96 613.50,506.51 614.50,508.86 615.50,510.50 616.57,511.93 617.63,512.40 618.70,513.40 619.85,511.70 621.00,509.85 622.00,508.70 623.00,506.77 624.00,504.97 625.00,502.51 626.07,500.63 627.14,498.73 628.21,497.69 629.29,495.97 630.36,493.95 631.43,490.86 632.50,488.89 633.60,488.53 634.70,486.25 635.80,485.07 636.90,482.86 638.00,481.45 639.00,480.52 640.00,479.40 641.00,478.64 642.00,476.82 643.00,476.78 644.00,475.98 645.00,474.05 646.00,473.72 647.00,473.41 648.00,472.22 649.00,471.22 650.00,470.46 651.00,470.23 652.00,468.82 653.00,469.55 654.00,468.92 655.00,468.29 656.00,468.01 657.00,467.18 658.00,466.37 659.00,466.14 660.00,465.51 661.00,465.83 662.00,465.23 663.00,464.11 664.00,464.68 665.00,464.09 666.00,463.79 667.00,463.49 668.00,462.57 669.00,462.91 670.00,462.53 671.00,461.92 672.00,461.67 673.00,461.32 674.00,460.47 675.00,460.56 676.00,459.30 677.00,459.33 678.00,459.16 679.00,458.16 680.00,458.30 681.00,458.34 682.00,457.97 683.00,457.08 684.00,457.73 685.00,456.99 686.00,456.19 687.00,456.29 688.00,455.82 689.00,455.42 690.00,454.88 691.00,455.38 692.00,454.54 693.00,454.27 694.00,454.01 695.00,453.97 696.00,452.36 697.00,452.91 698.00,452.81 699.00,451.86 700.00,451.79 701.00,451.02 702.00,450.95 703.00,450.93 704.00,450.26 705.00,450.20 706.00,450.84 707.00,450.07 708.00,449.78 709.00,450.19 710.00,449.40 711.00,449.77 712.00,449.04 713.00,449.05 714.00,447.79 715.00,448.29 716.00,448.29 717.00,447.06 718.00,448.06 719.00,446.75 720.00,446.96 721.00,446.27 722.00,446.46 723.00,446.36 724.00,445.32 725.00,446.29 726.00,445.29 727.00,445.17 728.00,445.00 729.00,444.41 730.00,444.03 731.00,444.28 732.00,443.88 733.00,443.27 734.00,443.64 735.00,442.82 736.00,442.20 737.00,442.29 738.00,441.78 739.00,441.70 740.00,442.31 741.00,441.57 742.00,442.05 743.00,441.61 744.00,440.40 745.00,441.48 746.00,441.27 747.00,439.90 748.00,440.92 749.00,440.10 750.00,440.02 751.00,440.56 752.00,439.39 753.00,439.63 754.00,440.06 755.00,439.61 756.00,439.14 757.00,439.75 758.00,439.41 759.00,439.00 760.00,438.21 761.00,438.81 762.00,438.46 763.00,438.00 764.00,437.67" fill="none" stroke="#983b61" stroke-width="3.6" stroke-linejoin="round" stroke-linecap="round"/>
<polyline points="733.80,524.30 757.50,524.30 757.50,474.80 820.00,474.80 820.00,498.30 836.80,498.30 836.80,524.30 853.80,524.30" fill="none" stroke="#000" stroke-width="1.8" stroke-linejoin="miter" stroke-linecap="butt"/>
<polygon points="757.1999999999999,455.7 771.6,455.7 764.4,471" fill="#000"/>
<text x="773.00" y="470.00" font-size="22.6" fill="#000" text-anchor="start">-10</text>
<text x="698.00" y="531.80" font-size="22.6" fill="#000" text-anchor="start">-80</text>
<text x="841.50" y="506.00" font-size="22.6" fill="#000" text-anchor="start">-40</text>
<text x="768.30" y="525.00" font-size="22.6" fill="#000" text-anchor="start">(mV)</text>
<text x="914.20" y="367.20" font-size="53" font-weight="bold" fill="#000" text-anchor="start">i</text>
<text transform="translate(926.3,518.6) rotate(-90)" font-size="32.8" font-weight="bold" text-anchor="middle">CoCl<tspan font-size="23" dy="7.5">2</tspan><tspan dy="-7.5">-sens.</tspan></text>
<text x="0" y="0" transform="translate(978.70,513.60) rotate(-90)" font-size="32.8" font-weight="bold" fill="#000" text-anchor="middle">current (pA/pF)</text>
<polygon points="1043.7,355.7 1058.8999999999999,355.7 1051.3,370.3" fill="#000"/>
<line x1="1053.00" y1="372.60" x2="1053.00" y2="560.60" stroke="#000" stroke-width="2.4"/>
<line x1="1040.00" y1="560.60" x2="1146.50" y2="560.60" stroke="#000" stroke-width="2.4"/>
<line x1="1040.00" y1="373.80" x2="1053.00" y2="373.80" stroke="#000" stroke-width="2.2"/>
<text x="1031.20" y="383.40" font-size="29.6" fill="#000" text-anchor="end">20</text>
<line x1="1040.00" y1="467.20" x2="1053.00" y2="467.20" stroke="#000" stroke-width="2.2"/>
<text x="1031.20" y="476.80" font-size="29.6" fill="#000" text-anchor="end">10</text>
<text x="1031.20" y="570.20" font-size="29.6" fill="#000" text-anchor="end">0</text>
<line x1="1046.30" y1="420.50" x2="1053.00" y2="420.50" stroke="#000" stroke-width="2.2"/>
<line x1="1046.30" y1="513.90" x2="1053.00" y2="513.90" stroke="#000" stroke-width="2.2"/>
<line x1="1057.00" y1="560.60" x2="1057.00" y2="567.20" stroke="#000" stroke-width="2.2"/>
<line x1="1099.30" y1="560.60" x2="1099.30" y2="567.20" stroke="#000" stroke-width="2.2"/>
<line x1="1142.50" y1="560.60" x2="1142.50" y2="567.20" stroke="#000" stroke-width="2.2"/>
<path d="M1061.30,560.60 V480.80 H1095.80 V560.60" fill="none" stroke="#000" stroke-width="5.4" stroke-linejoin="round"/>
<path d="M1103.80,560.60 V500.80 H1138.00 V560.60" fill="none" stroke="#983b61" stroke-width="5.4" stroke-linejoin="round"/>
<line x1="1078.50" y1="470.00" x2="1078.50" y2="479.00" stroke="#000" stroke-width="2.2"/>
<line x1="1072.00" y1="470.00" x2="1085.00" y2="470.00" stroke="#000" stroke-width="2.2"/>
<line x1="1120.80" y1="490.00" x2="1120.80" y2="499.00" stroke="#000" stroke-width="2.2"/>
<line x1="1114.30" y1="490.00" x2="1127.30" y2="490.00" stroke="#000" stroke-width="2.2"/>
<circle cx="1071.25" cy="458.75" r="2.3" fill="#fff" stroke="#000" stroke-width="1.25"/>
<circle cx="1088.00" cy="464.50" r="2.3" fill="#fff" stroke="#000" stroke-width="1.25"/>
<circle cx="1080.00" cy="472.50" r="2.3" fill="#fff" stroke="#000" stroke-width="1.25"/>
<circle cx="1079.50" cy="519.75" r="2.3" fill="#fff" stroke="#000" stroke-width="1.25"/>
<circle cx="1122.00" cy="457.25" r="2.3" fill="#fff" stroke="#983b61" stroke-width="1.25"/>
<circle cx="1122.00" cy="471.25" r="2.3" fill="#fff" stroke="#983b61" stroke-width="1.25"/>
<circle cx="1109.50" cy="517.50" r="2.3" fill="#fff" stroke="#983b61" stroke-width="1.25"/>
<circle cx="1117.80" cy="515.00" r="2.3" fill="#fff" stroke="#983b61" stroke-width="1.25"/>
<circle cx="1126.25" cy="519.75" r="2.3" fill="#fff" stroke="#983b61" stroke-width="1.25"/>
<circle cx="1134.25" cy="516.75" r="2.3" fill="#fff" stroke="#983b61" stroke-width="1.25"/>
<text x="1078.70" y="554.00" font-size="23.5" font-weight="bold" fill="#000" text-anchor="middle">5</text>
<text x="1119.50" y="554.00" font-size="23.5" font-weight="bold" fill="#000" text-anchor="middle">6</text>
<text x="0" y="0" transform="translate(1090.50,586.80) rotate(-44)" font-size="31.6" font-weight="bold" fill="#000" text-anchor="end">control</text>
<text x="0" y="0" transform="translate(1133.00,586.80) rotate(-44)" font-size="31.6" font-weight="bold" fill="#000" text-anchor="end">120 min</text>
<text x="1175.00" y="367.20" font-size="53" font-weight="bold" fill="#000" text-anchor="start">j</text>
<text x="1221.00" y="386.30" font-size="30.2" font-weight="bold" fill="#000" text-anchor="start">control</text>
<text x="1419.50" y="386.30" font-size="30" font-weight="bold" fill="#983b61" text-anchor="middle">rotenone</text>
<text x="1419.80" y="422.80" font-size="30.3" font-weight="bold" fill="#983b61" text-anchor="middle">(120 min)</text>
<polygon points="1214.50,411.30 1222.11,416.83 1219.20,425.77 1209.80,425.77 1206.89,416.83" fill="#000"/>
<line x1="1204.50" y1="616.70" x2="1331.00" y2="616.70" stroke="#5e5e5e" stroke-width="2.1" stroke-dasharray="2.1 2.4"/>
<text x="1334.00" y="624.30" font-size="23.5" fill="#000" text-anchor="start">0</text>
<line x1="1362.00" y1="616.70" x2="1490.00" y2="616.70" stroke="#5e5e5e" stroke-width="2.1" stroke-dasharray="2.1 2.4"/>
<line x1="1211.20" y1="424.00" x2="1211.20" y2="625.50" stroke="#000" stroke-width="3"/>
<polyline points="1211.50,520.00 1212.30,470.00 1213.30,436.00 1214.30,440.00 1215.30,453.50 1216.30,467.00 1217.13,475.33 1217.97,483.67 1218.80,492.00 1219.63,499.83 1220.47,507.67 1221.30,515.50 1222.40,521.76 1223.50,527.94 1224.43,532.02 1225.37,536.54 1226.30,540.70 1227.20,544.44 1228.10,548.03 1229.00,551.74 1229.88,554.98 1230.75,557.59 1231.62,560.39 1232.50,563.22 1233.38,565.71 1234.25,566.89 1235.12,569.22 1236.00,573.07 1236.80,574.68 1237.60,576.35 1238.40,575.89 1239.20,577.59 1240.00,579.84 1240.83,581.19 1241.67,582.72 1242.50,581.95 1243.33,584.31 1244.17,583.57 1245.00,584.48 1245.83,587.42 1246.67,587.70 1247.50,588.78 1248.33,588.47 1249.17,589.66 1250.00,589.20 1250.83,590.70 1251.67,593.50 1252.50,594.90 1253.33,592.03 1254.17,593.13 1255.00,597.61 1255.83,597.39 1256.67,598.90 1257.50,596.76 1258.33,598.61 1259.17,598.49 1260.00,602.11 1260.86,600.10 1261.71,601.87 1262.57,603.90 1263.43,600.73 1264.29,602.18 1265.14,603.49 1266.00,604.69 1266.81,602.35 1267.62,602.27 1268.44,601.08 1269.25,605.35 1270.06,601.43 1270.88,601.68 1271.69,604.41 1272.50,604.22 1273.31,605.54 1274.12,603.80 1274.94,606.56 1275.75,603.20 1276.56,604.18 1277.38,606.79 1278.19,604.05 1279.00,605.48 1279.86,607.88 1280.71,607.94 1281.57,606.01 1282.43,605.50 1283.29,606.83 1284.14,608.96 1285.00,607.31 1285.86,606.44 1286.71,609.95 1287.57,609.65 1288.43,611.89 1289.29,612.43 1290.14,612.72 1291.00,610.68 1291.81,612.83 1292.62,610.48 1293.44,610.80 1294.25,611.48 1295.06,614.51 1295.88,614.55 1296.69,611.44 1297.50,612.28 1298.31,612.49 1299.12,612.66 1299.94,613.02 1300.75,613.17 1301.56,612.35 1302.38,614.46 1303.19,615.86 1304.00,614.71 1304.86,616.39 1305.71,615.11 1306.57,613.25 1307.43,616.42 1308.29,617.19 1309.14,614.22 1310.00,613.02 1310.90,615.77 1311.80,616.10 1312.70,616.41 1313.60,618.67 1314.50,617.21 1315.40,618.20 1316.30,614.53" fill="none" stroke="#000" stroke-width="3.2" stroke-linejoin="round" stroke-linecap="round"/>
<text x="0" y="0" transform="translate(1190.50,642.30) rotate(-90)" font-size="22.3" fill="#000" text-anchor="start">100 pA</text>
<polyline points="1199.30,592.60 1199.30,641.40 1234.80,641.40" fill="none" stroke="#000" stroke-width="2" stroke-linejoin="miter" stroke-linecap="butt"/>
<text x="1196.70" y="666.30" font-size="22.6" fill="#000" text-anchor="start">50 ms</text>
<polyline points="1356.80,592.60 1356.80,641.40 1392.80,641.40" fill="none" stroke="#000" stroke-width="2" stroke-linejoin="miter" stroke-linecap="butt"/>
<line x1="1368.10" y1="462.00" x2="1368.10" y2="626.50" stroke="#983b61" stroke-width="2.2"/>
<polyline points="1368.60,626.00 1369.30,612.00 1370.00,595.00 1371.00,572.00 1371.90,563.00 1372.80,554.00 1373.65,551.65 1374.50,549.30 1375.50,550.40 1376.50,551.52 1377.38,553.79 1378.25,555.89 1379.12,558.08 1380.00,560.71 1380.83,562.19 1381.67,564.13 1382.50,565.36 1383.33,566.93 1384.17,569.60 1385.00,570.81 1385.83,571.57 1386.67,572.75 1387.50,574.26 1388.33,575.35 1389.17,577.01 1390.00,576.75 1390.83,578.77 1391.67,579.10 1392.50,580.46 1393.33,581.12 1394.17,582.00 1395.00,582.97 1395.88,583.64 1396.75,583.15 1397.62,583.26 1398.50,584.28 1399.38,585.02 1400.25,584.34 1401.12,584.80 1402.00,584.44 1402.80,586.50 1403.60,587.53 1404.40,585.97 1405.20,585.62 1406.00,586.01 1406.80,586.95 1407.60,586.84 1408.40,589.15 1409.20,586.70 1410.00,587.73 1410.83,587.37 1411.67,589.19 1412.50,589.80 1413.33,588.24 1414.17,588.11 1415.00,589.53 1415.83,590.13 1416.67,591.33 1417.50,588.93 1418.33,589.38 1419.17,589.83 1420.00,590.15 1420.83,590.39 1421.67,592.02 1422.50,591.83 1423.33,590.91 1424.17,590.97 1425.00,591.44 1425.83,591.30 1426.67,593.24 1427.50,592.09 1428.33,592.98 1429.17,593.97 1430.00,593.14 1430.83,592.66 1431.67,594.73 1432.50,594.99 1433.33,593.46 1434.17,594.26 1435.00,595.67 1435.83,594.39 1436.67,593.74 1437.50,593.37 1438.33,596.20 1439.17,595.90 1440.00,594.79 1440.83,595.35 1441.67,595.46 1442.50,594.87 1443.33,597.16 1444.17,596.30 1445.00,595.18 1445.83,594.64 1446.67,596.16 1447.50,596.00 1448.33,597.41 1449.17,597.30 1450.00,597.12 1450.80,595.89 1451.60,596.00 1452.40,596.61 1453.20,596.53 1454.00,598.47 1454.80,597.53 1455.60,598.00 1456.40,599.19 1457.20,597.12 1458.00,598.04 1458.80,597.00 1459.60,598.97 1460.40,596.78 1461.20,599.35 1462.00,599.54 1462.83,599.55 1463.67,597.42 1464.50,598.07 1465.33,599.50 1466.17,597.72 1467.00,598.96 1467.83,599.01 1468.67,600.56 1469.50,599.54 1470.33,600.44 1471.17,598.86 1472.00,600.41 1472.83,599.38 1473.67,600.96 1474.50,598.57" fill="none" stroke="#983b61" stroke-width="4.2" stroke-linejoin="round" stroke-linecap="round"/>
<text x="1520.00" y="367.20" font-size="53" font-weight="bold" fill="#000" text-anchor="start">k</text>
<text transform="translate(1540.3,563) rotate(-90)" font-size="33.2" font-weight="bold"><tspan font-style="italic">I</tspan><tspan font-size="19" dy="11.8">AHP</tspan><tspan dy="-11.8"> density</tspan></text>
<text x="0" y="0" transform="translate(1592.50,476.30) rotate(-90)" font-size="32.3" font-weight="bold" fill="#000" text-anchor="middle">(pA/pF)</text>
<polygon points="1655.80,351.30 1663.41,356.83 1660.50,365.77 1651.10,365.77 1648.19,356.83" fill="#000"/>
<line x1="1656.00" y1="373.20" x2="1656.00" y2="561.20" stroke="#000" stroke-width="2.4"/>
<line x1="1642.50" y1="561.20" x2="1750.00" y2="561.20" stroke="#000" stroke-width="2.4"/>
<line x1="1642.50" y1="410.60" x2="1656.00" y2="410.60" stroke="#000" stroke-width="2.2"/>
<text x="1634.80" y="420.20" font-size="29.6" fill="#000" text-anchor="end">12</text>
<line x1="1642.50" y1="460.80" x2="1656.00" y2="460.80" stroke="#000" stroke-width="2.2"/>
<text x="1634.80" y="470.40" font-size="29.6" fill="#000" text-anchor="end">8</text>
<line x1="1642.50" y1="511.00" x2="1656.00" y2="511.00" stroke="#000" stroke-width="2.2"/>
<text x="1634.80" y="520.60" font-size="29.6" fill="#000" text-anchor="end">4</text>
<text x="1634.80" y="570.80" font-size="29.6" fill="#000" text-anchor="end">0</text>
<line x1="1648.80" y1="385.50" x2="1656.00" y2="385.50" stroke="#000" stroke-width="2.2"/>
<line x1="1648.80" y1="435.70" x2="1656.00" y2="435.70" stroke="#000" stroke-width="2.2"/>
<line x1="1648.80" y1="485.90" x2="1656.00" y2="485.90" stroke="#000" stroke-width="2.2"/>
<line x1="1648.80" y1="536.10" x2="1656.00" y2="536.10" stroke="#000" stroke-width="2.2"/>
<line x1="1660.60" y1="561.20" x2="1660.60" y2="567.60" stroke="#000" stroke-width="2.2"/>
<line x1="1702.60" y1="561.20" x2="1702.60" y2="567.60" stroke="#000" stroke-width="2.2"/>
<line x1="1745.50" y1="561.20" x2="1745.50" y2="567.60" stroke="#000" stroke-width="2.2"/>
<path d="M1663.80,561.20 V464.00 H1698.80 V561.20" fill="none" stroke="#000" stroke-width="5.4" stroke-linejoin="round"/>
<path d="M1707.00,561.20 V514.00 H1741.30 V561.20" fill="none" stroke="#983b61" stroke-width="5.4" stroke-linejoin="round"/>
<line x1="1681.60" y1="453.60" x2="1681.60" y2="462.00" stroke="#000" stroke-width="2.2"/>
<line x1="1675.10" y1="453.60" x2="1688.10" y2="453.60" stroke="#000" stroke-width="2.2"/>
<circle cx="1681.25" cy="378.75" r="2.3" fill="#fff" stroke="#000" stroke-width="1.25"/>
<circle cx="1689.50" cy="396.50" r="2.3" fill="#fff" stroke="#000" stroke-width="1.25"/>
<circle cx="1673.00" cy="405.25" r="2.3" fill="#fff" stroke="#000" stroke-width="1.25"/>
<circle cx="1681.25" cy="408.25" r="2.3" fill="#fff" stroke="#000" stroke-width="1.25"/>
<circle cx="1668.25" cy="440.00" r="2.3" fill="#fff" stroke="#000" stroke-width="1.25"/>
<circle cx="1677.00" cy="443.25" r="2.3" fill="#fff" stroke="#000" stroke-width="1.25"/>
<circle cx="1694.25" cy="445.75" r="2.3" fill="#fff" stroke="#000" stroke-width="1.25"/>
<circle cx="1685.00" cy="459.00" r="2.3" fill="#fff" stroke="#000" stroke-width="1.25"/>
<circle cx="1668.75" cy="466.25" r="2.3" fill="#fff" stroke="#000" stroke-width="1.25"/>
<circle cx="1685.00" cy="478.25" r="2.3" fill="#fff" stroke="#000" stroke-width="1.25"/>
<circle cx="1677.00" cy="481.50" r="2.3" fill="#fff" stroke="#000" stroke-width="1.25"/>
<circle cx="1694.25" cy="485.75" r="2.3" fill="#fff" stroke="#000" stroke-width="1.25"/>
<circle cx="1677.00" cy="489.50" r="2.3" fill="#fff" stroke="#000" stroke-width="1.25"/>
<circle cx="1685.00" cy="507.75" r="2.3" fill="#fff" stroke="#000" stroke-width="1.25"/>
<circle cx="1677.00" cy="512.50" r="2.3" fill="#fff" stroke="#000" stroke-width="1.25"/>
<circle cx="1668.75" cy="522.50" r="2.3" fill="#fff" stroke="#000" stroke-width="1.25"/>
<circle cx="1685.00" cy="527.50" r="2.3" fill="#fff" stroke="#000" stroke-width="1.25"/>
<circle cx="1694.25" cy="522.50" r="2.3" fill="#fff" stroke="#000" stroke-width="1.25"/>
<circle cx="1726.25" cy="465.75" r="2.3" fill="#fff" stroke="#983b61" stroke-width="1.25"/>
<circle cx="1721.75" cy="477.00" r="2.3" fill="#fff" stroke="#983b61" stroke-width="1.25"/>
<circle cx="1719.50" cy="495.75" r="2.3" fill="#fff" stroke="#983b61" stroke-width="1.25"/>
<circle cx="1728.25" cy="497.50" r="2.3" fill="#fff" stroke="#983b61" stroke-width="1.25"/>
<circle cx="1739.50" cy="513.25" r="2.3" fill="#fff" stroke="#983b61" stroke-width="1.25"/>
<circle cx="1708.75" cy="517.50" r="2.3" fill="#fff" stroke="#983b61" stroke-width="1.25"/>
<circle cx="1713.25" cy="515.00" r="2.3" fill="#fff" stroke="#983b61" stroke-width="1.25"/>
<circle cx="1717.50" cy="523.50" r="2.3" fill="#fff" stroke="#983b61" stroke-width="1.25"/>
<circle cx="1721.75" cy="521.75" r="2.3" fill="#fff" stroke="#983b61" stroke-width="1.25"/>
<circle cx="1726.25" cy="520.00" r="2.3" fill="#fff" stroke="#983b61" stroke-width="1.25"/>
<circle cx="1734.50" cy="528.00" r="2.3" fill="#fff" stroke="#983b61" stroke-width="1.25"/>
<circle cx="1730.50" cy="533.00" r="2.3" fill="#fff" stroke="#983b61" stroke-width="1.25"/>
<circle cx="1723.75" cy="541.75" r="2.3" fill="#fff" stroke="#983b61" stroke-width="1.25"/>
<circle cx="1720.00" cy="544.25" r="2.3" fill="#fff" stroke="#983b61" stroke-width="1.25"/>
<line x1="1723.80" y1="509.00" x2="1723.80" y2="513.50" stroke="#000" stroke-width="2.2"/>
<line x1="1717.30" y1="509.00" x2="1730.30" y2="509.00" stroke="#000" stroke-width="2.2"/>
<circle cx="1723.75" cy="511.50" r="2.3" fill="#fff" stroke="#983b61" stroke-width="1.25"/>
<text x="1681.50" y="554.00" font-size="23.5" font-weight="bold" fill="#000" text-anchor="middle">18</text>
<text x="1723.80" y="554.00" font-size="23.5" font-weight="bold" fill="#000" text-anchor="middle">16</text>
<text x="1722.00" y="467.50" font-size="30" font-weight="bold" fill="#c00000" text-anchor="middle">***</text>
<text x="0" y="0" transform="translate(1693.00,586.80) rotate(-44)" font-size="31.6" font-weight="bold" fill="#000" text-anchor="end">control</text>
<text x="0" y="0" transform="translate(1735.50,586.80) rotate(-44)" font-size="31.6" font-weight="bold" fill="#000" text-anchor="end">120 min</text>
<text x="1768.30" y="367.20" font-size="53" font-weight="bold" fill="#000" text-anchor="start">l</text>
<text x="0" y="0" transform="translate(1784.50,475.00) rotate(-90)" font-size="32.7" font-weight="bold" fill="#000" text-anchor="middle">Decay time</text>
<text transform="translate(1829.8,521.5) rotate(-90)" font-size="32.3" font-weight="bold"><tspan font-family="Liberation Serif,serif" font-style="italic" font-weight="normal" font-size="35">τ</tspan><tspan dx="3.6"> (ms)</tspan></text>
<line x1="1910.20" y1="371.50" x2="1910.20" y2="559.80" stroke="#000" stroke-width="2.4"/>
<line x1="1897.00" y1="559.80" x2="2004.50" y2="559.80" stroke="#000" stroke-width="2.4"/>
<line x1="1897.00" y1="433.80" x2="1910.20" y2="433.80" stroke="#000" stroke-width="2.2"/>
<text x="1887.60" y="441.70" font-size="26.2" fill="#000" text-anchor="end">100</text>
<text x="1887.60" y="567.70" font-size="26.2" fill="#000" text-anchor="end">10</text>
<line x1="1903.30" y1="521.87" x2="1910.20" y2="521.87" stroke="#000" stroke-width="2.2"/>
<line x1="1903.30" y1="499.68" x2="1910.20" y2="499.68" stroke="#000" stroke-width="2.2"/>
<line x1="1903.30" y1="483.94" x2="1910.20" y2="483.94" stroke="#000" stroke-width="2.2"/>
<line x1="1903.30" y1="471.73" x2="1910.20" y2="471.73" stroke="#000" stroke-width="2.2"/>
<line x1="1903.30" y1="461.75" x2="1910.20" y2="461.75" stroke="#000" stroke-width="2.2"/>
<line x1="1903.30" y1="453.32" x2="1910.20" y2="453.32" stroke="#000" stroke-width="2.2"/>
<line x1="1903.30" y1="446.01" x2="1910.20" y2="446.01" stroke="#000" stroke-width="2.2"/>
<line x1="1903.30" y1="439.57" x2="1910.20" y2="439.57" stroke="#000" stroke-width="2.2"/>
<line x1="1903.30" y1="395.87" x2="1910.20" y2="395.87" stroke="#000" stroke-width="2.2"/>
<line x1="1903.30" y1="372.60" x2="1910.20" y2="372.60" stroke="#000" stroke-width="2.2"/>
<rect x="1914.5" y="421.5" width="37.5" height="9.300000000000011" fill="#fff" stroke="#000" stroke-width="1.9"/>
<line x1="1914.50" y1="424.00" x2="1952.00" y2="424.00" stroke="#000" stroke-width="1.9"/>
<line x1="1914.50" y1="425.60" x2="1952.00" y2="425.60" stroke="#000" stroke-width="1.2"/>
<line x1="1933.25" y1="413.30" x2="1933.25" y2="421.50" stroke="#000" stroke-width="1.6"/>
<line x1="1933.25" y1="430.80" x2="1933.25" y2="435.80" stroke="#000" stroke-width="1.6"/>
<line x1="1930.05" y1="413.30" x2="1936.45" y2="413.30" stroke="#000" stroke-width="1.6"/>
<line x1="1930.05" y1="435.80" x2="1936.45" y2="435.80" stroke="#000" stroke-width="1.6"/>
<rect x="1961.3" y="408.3" width="37.700000000000045" height="15.0" fill="#fff" stroke="#983b61" stroke-width="1.9"/>
<line x1="1961.30" y1="417.50" x2="1999.00" y2="417.50" stroke="#983b61" stroke-width="1.9"/>
<line x1="1980.15" y1="404.50" x2="1980.15" y2="408.30" stroke="#983b61" stroke-width="1.6"/>
<line x1="1980.15" y1="423.30" x2="1980.15" y2="448.30" stroke="#983b61" stroke-width="1.6"/>
<line x1="1976.95" y1="404.50" x2="1983.35" y2="404.50" stroke="#983b61" stroke-width="1.6"/>
<line x1="1976.95" y1="448.30" x2="1983.35" y2="448.30" stroke="#983b61" stroke-width="1.6"/>
<rect x="1914.5" y="522.5" width="37.5" height="11.799999999999955" fill="#fff" stroke="#000" stroke-width="1.9"/>
<line x1="1914.50" y1="524.80" x2="1952.00" y2="524.80" stroke="#000" stroke-width="1.9"/>
<line x1="1933.25" y1="516.80" x2="1933.25" y2="522.50" stroke="#000" stroke-width="1.6"/>
<line x1="1933.25" y1="534.30" x2="1933.25" y2="544.30" stroke="#000" stroke-width="1.6"/>
<line x1="1930.05" y1="516.80" x2="1936.45" y2="516.80" stroke="#000" stroke-width="1.6"/>
<line x1="1930.05" y1="544.30" x2="1936.45" y2="544.30" stroke="#000" stroke-width="1.6"/>
<rect x="1961.3" y="507" width="37.700000000000045" height="14.799999999999955" fill="#fff" stroke="#983b61" stroke-width="1.9"/>
<line x1="1961.30" y1="515.50" x2="1999.00" y2="515.50" stroke="#983b61" stroke-width="1.9"/>
<line x1="1980.15" y1="502.80" x2="1980.15" y2="507.00" stroke="#983b61" stroke-width="1.6"/>
<line x1="1980.15" y1="521.80" x2="1980.15" y2="526.00" stroke="#983b61" stroke-width="1.6"/>
<line x1="1976.95" y1="502.80" x2="1983.35" y2="502.80" stroke="#983b61" stroke-width="1.6"/>
<line x1="1976.95" y1="526.00" x2="1983.35" y2="526.00" stroke="#983b61" stroke-width="1.6"/>
<text x="1978.50" y="404.50" font-size="30" font-weight="bold" fill="#c00000" text-anchor="middle">*</text>
<text x="1980.30" y="505.00" font-size="30" font-weight="bold" fill="#c00000" text-anchor="middle">**</text>
<text x="0" y="0" transform="translate(1948.50,582.30) rotate(-44)" font-size="32" font-weight="bold" fill="#000" text-anchor="end">control</text>
<text x="0" y="0" transform="translate(1996.50,582.30) rotate(-44)" font-size="32" font-weight="bold" fill="#000" text-anchor="end">rotenone</text>
</svg>
</body></html>
